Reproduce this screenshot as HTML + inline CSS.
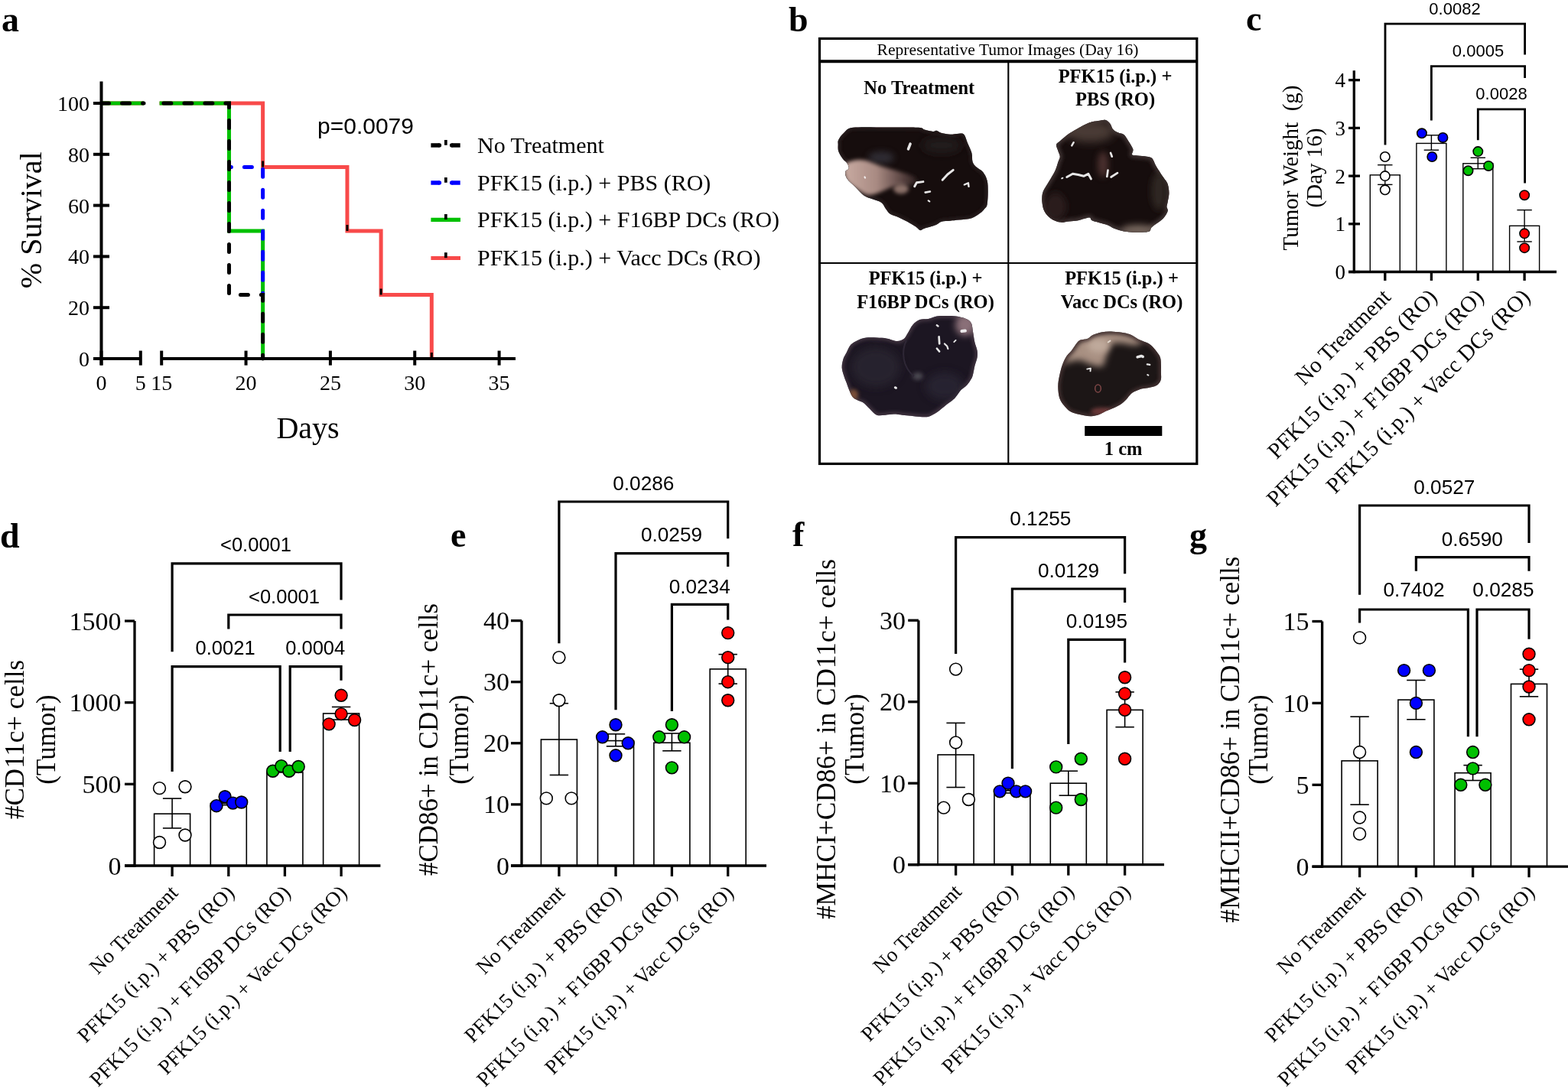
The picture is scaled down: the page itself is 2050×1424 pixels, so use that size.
<!DOCTYPE html><html><head><meta charset="utf-8"><title>Figure</title><style>html,body{margin:0;padding:0;background:#fff;}svg{display:block;}</style></head><body>
<svg width="2050" height="1424" viewBox="0 0 2050 1424">
<rect width="2050" height="1424" fill="#fff"/>
<text x="2" y="41" font-family="'Liberation Serif','Times New Roman',serif" font-size="46" text-anchor="start" font-weight="bold" >a</text>
<path d="M132.5 135.0 H188" stroke="#f84a4a" stroke-width="5" fill="none"/>
<path d="M208.6 135.0 H343.62 V218.5 H453.97 V302.0 H498.11 V385.5 H564.3199999999999 V469.0" stroke="#f84a4a" stroke-width="5" fill="none"/>
<path d="M132.5 135.0 H188 M208.6 135.0 H299.48 V302.0 H343.62 V469.0" stroke="#00c000" stroke-width="5" fill="none"/>
<path d="M299.48 218.5 H343.62 V385.5" stroke="#0000ff" stroke-width="5" fill="none" stroke-dasharray="10 17" stroke-linecap="round" stroke-dashoffset="7.1"/>
<path d="M132.5 135.0 H188" stroke="#000" stroke-width="5" fill="none" stroke-dasharray="10 17" stroke-linecap="round"/>
<path d="M208.6 135.0 H299.48 V385.5 H343.62 V469.0" stroke="#000" stroke-width="5" fill="none" stroke-dasharray="10 17" stroke-linecap="round" stroke-dashoffset="21.7"/>
<rect x="342.12" y="210.5" width="3" height="8" fill="#000"/>
<rect x="452.47" y="294" width="3" height="8" fill="#000"/>
<rect x="496.61" y="377.5" width="3" height="8" fill="#000"/>
<rect x="562.82" y="461" width="3" height="8" fill="#000"/>
<line x1="132.5" y1="106.5" x2="132.5" y2="477.5" stroke="#000" stroke-width="4" />
<line x1="122" y1="469" x2="183.8" y2="469" stroke="#000" stroke-width="4" />
<line x1="211.2" y1="469" x2="674" y2="469" stroke="#000" stroke-width="4" />
<line x1="122" y1="469" x2="143" y2="469" stroke="#000" stroke-width="4" />
<text x="117" y="479" font-family="'Liberation Serif','Times New Roman',serif" font-size="28" text-anchor="end" font-weight="normal" >0</text>
<line x1="122" y1="402.2" x2="143" y2="402.2" stroke="#000" stroke-width="4" />
<text x="117" y="412.2" font-family="'Liberation Serif','Times New Roman',serif" font-size="28" text-anchor="end" font-weight="normal" >20</text>
<line x1="122" y1="335.4" x2="143" y2="335.4" stroke="#000" stroke-width="4" />
<text x="117" y="345.4" font-family="'Liberation Serif','Times New Roman',serif" font-size="28" text-anchor="end" font-weight="normal" >40</text>
<line x1="122" y1="268.6" x2="143" y2="268.6" stroke="#000" stroke-width="4" />
<text x="117" y="278.6" font-family="'Liberation Serif','Times New Roman',serif" font-size="28" text-anchor="end" font-weight="normal" >60</text>
<line x1="122" y1="201.8" x2="143" y2="201.8" stroke="#000" stroke-width="4" />
<text x="117" y="211.8" font-family="'Liberation Serif','Times New Roman',serif" font-size="28" text-anchor="end" font-weight="normal" >80</text>
<line x1="122" y1="135" x2="143" y2="135" stroke="#000" stroke-width="4" />
<text x="117" y="145" font-family="'Liberation Serif','Times New Roman',serif" font-size="28" text-anchor="end" font-weight="normal" >100</text>
<line x1="132.5" y1="458.6" x2="132.5" y2="477.7" stroke="#000" stroke-width="4" />
<text x="132.5" y="510" font-family="'Liberation Serif','Times New Roman',serif" font-size="28" text-anchor="middle" font-weight="normal" >0</text>
<line x1="183.8" y1="458.6" x2="183.8" y2="477.7" stroke="#000" stroke-width="4" />
<text x="183.8" y="510" font-family="'Liberation Serif','Times New Roman',serif" font-size="28" text-anchor="middle" font-weight="normal" >5</text>
<line x1="211.2" y1="458.6" x2="211.2" y2="477.7" stroke="#000" stroke-width="4" />
<text x="211.2" y="510" font-family="'Liberation Serif','Times New Roman',serif" font-size="28" text-anchor="middle" font-weight="normal" >15</text>
<line x1="321.55" y1="458.6" x2="321.55" y2="477.7" stroke="#000" stroke-width="4" />
<text x="321.55" y="510" font-family="'Liberation Serif','Times New Roman',serif" font-size="28" text-anchor="middle" font-weight="normal" >20</text>
<line x1="431.9" y1="458.6" x2="431.9" y2="477.7" stroke="#000" stroke-width="4" />
<text x="431.9" y="510" font-family="'Liberation Serif','Times New Roman',serif" font-size="28" text-anchor="middle" font-weight="normal" >25</text>
<line x1="542.25" y1="458.6" x2="542.25" y2="477.7" stroke="#000" stroke-width="4" />
<text x="542.25" y="510" font-family="'Liberation Serif','Times New Roman',serif" font-size="28" text-anchor="middle" font-weight="normal" >30</text>
<line x1="652.6" y1="458.6" x2="652.6" y2="477.7" stroke="#000" stroke-width="4" />
<text x="652.6" y="510" font-family="'Liberation Serif','Times New Roman',serif" font-size="28" text-anchor="middle" font-weight="normal" >35</text>
<text x="402.5" y="573" font-family="'Liberation Serif','Times New Roman',serif" font-size="40" text-anchor="middle" font-weight="normal" >Days</text>
<text transform="translate(54,287.7) rotate(-90)" font-family="'Liberation Serif','Times New Roman',serif" font-size="40" text-anchor="middle" font-weight="normal" style="white-space:pre">% Survival</text>
<text x="415" y="175" font-family="'Liberation Sans',Arial,sans-serif" font-size="30" text-anchor="start" font-weight="normal" >p=0.0079</text>
<rect x="563.4" y="187.25" width="11" height="5.5" fill="#000"/><circle cx="574.4" cy="190" r="2.75" fill="#000"/>
<rect x="590.7" y="187.25" width="11" height="5.5" fill="#000"/><circle cx="590.7" cy="190" r="2.75" fill="#000"/>
<rect x="581" y="183" width="3.7" height="6.8" fill="#000"/>
<text x="624" y="200.3" font-family="'Liberation Serif','Times New Roman',serif" font-size="30" text-anchor="start" font-weight="normal" >No Treatment</text>
<rect x="563.4" y="236.25" width="11" height="5.5" fill="#0000ff"/><circle cx="574.4" cy="239" r="2.75" fill="#0000ff"/>
<rect x="590.7" y="236.25" width="11" height="5.5" fill="#0000ff"/><circle cx="590.7" cy="239" r="2.75" fill="#0000ff"/>
<rect x="581" y="232" width="3.7" height="6.8" fill="#000"/>
<text x="624" y="249" font-family="'Liberation Serif','Times New Roman',serif" font-size="30" text-anchor="start" font-weight="normal" >PFK15 (i.p.) + PBS (RO)</text>
<line x1="563.4" y1="287.3" x2="602" y2="287.3" stroke="#00c000" stroke-width="5.2" />
<rect x="581" y="280.0" width="3.7" height="7" fill="#000"/>
<text x="624" y="297.3" font-family="'Liberation Serif','Times New Roman',serif" font-size="30" text-anchor="start" font-weight="normal" >PFK15 (i.p.) + F16BP DCs (RO)</text>
<line x1="563.4" y1="337.5" x2="602" y2="337.5" stroke="#f84a4a" stroke-width="5.2" />
<rect x="581" y="330.2" width="3.7" height="7" fill="#000"/>
<text x="624" y="347.3" font-family="'Liberation Serif','Times New Roman',serif" font-size="30" text-anchor="start" font-weight="normal" >PFK15 (i.p.) + Vacc DCs (RO)</text>
<text x="1031" y="41" font-family="'Liberation Serif','Times New Roman',serif" font-size="46" text-anchor="start" font-weight="bold" >b</text>
<rect x="1071.5" y="50.45" width="493.3" height="556" fill="none" stroke="#000" stroke-width="3.2"/>
<line x1="1070" y1="80.3" x2="1566" y2="80.3" stroke="#000" stroke-width="4" />
<line x1="1318.3" y1="80" x2="1318.3" y2="607" stroke="#000" stroke-width="2.1" />
<line x1="1070" y1="344" x2="1566" y2="344" stroke="#000" stroke-width="2.1" />
<text x="1317.5" y="72.4" font-family="'Liberation Serif','Times New Roman',serif" font-size="21.6" text-anchor="middle" font-weight="normal" >Representative Tumor Images (Day 16)</text>
<text x="1201.8" y="123" font-family="'Liberation Serif','Times New Roman',serif" font-size="24.5" text-anchor="middle" font-weight="bold" >No Treatment</text>
<text x="1458" y="108" font-family="'Liberation Serif','Times New Roman',serif" font-size="24.5" text-anchor="middle" font-weight="bold" >PFK15 (i.p.) +</text>
<text x="1458" y="138" font-family="'Liberation Serif','Times New Roman',serif" font-size="24.5" text-anchor="middle" font-weight="bold" >PBS (RO)</text>
<text x="1210" y="372.4" font-family="'Liberation Serif','Times New Roman',serif" font-size="24.5" text-anchor="middle" font-weight="bold" >PFK15 (i.p.) +</text>
<text x="1210" y="402.5" font-family="'Liberation Serif','Times New Roman',serif" font-size="24.5" text-anchor="middle" font-weight="bold" >F16BP DCs (RO)</text>
<text x="1466.5" y="372.4" font-family="'Liberation Serif','Times New Roman',serif" font-size="24.5" text-anchor="middle" font-weight="bold" >PFK15 (i.p.) +</text>
<text x="1466.5" y="402.5" font-family="'Liberation Serif','Times New Roman',serif" font-size="24.5" text-anchor="middle" font-weight="bold" >Vacc DCs (RO)</text>
<rect x="1418.2" y="557" width="101.1" height="13" fill="#000"/>
<text x="1468.6" y="594.5" font-family="'Liberation Serif','Times New Roman',serif" font-size="24.5" text-anchor="middle" font-weight="bold" >1 cm</text>
<defs>
<filter id="bl1" x="-100%" y="-100%" width="300%" height="300%"><feGaussianBlur stdDeviation="2.5"/></filter>
<filter id="bl2" x="-100%" y="-100%" width="300%" height="300%"><feGaussianBlur stdDeviation="4"/></filter>
<filter id="bl3" x="-100%" y="-100%" width="300%" height="300%"><feGaussianBlur stdDeviation="6"/></filter>
<filter id="bl0" x="-5%" y="-5%" width="110%" height="110%"><feGaussianBlur stdDeviation="0.6"/></filter>
<linearGradient id="pk1" x1="0" y1="0" x2="1" y2="0"><stop offset="0" stop-color="#c9aba2"/><stop offset="0.45" stop-color="#a88a82"/><stop offset="0.8" stop-color="#5a4442"/><stop offset="1" stop-color="#2a1e1e"/></linearGradient>
<clipPath id="tc1"><path d="M1096.2 183.1 C1097.4 180.7 1099.8 176.8 1103.0 174.1 C1106.2 171.4 1105.8 168.1 1115.3 166.8 C1124.8 165.5 1145.8 166.5 1160.0 166.5 C1174.2 166.5 1192.6 166.3 1200.7 166.8 C1208.8 167.3 1205.4 168.8 1208.6 169.6 C1211.8 170.4 1217.2 171.7 1219.8 171.9 C1222.4 172.1 1222.4 170.3 1224.3 170.7 C1226.2 171.1 1228.1 173.2 1231.1 174.1 C1234.1 174.9 1238.6 175.7 1242.3 175.8 C1246.0 175.9 1250.5 174.7 1253.5 174.7 C1256.5 174.7 1258.4 173.8 1260.3 175.8 C1262.2 177.8 1263.1 182.5 1264.8 186.5 C1266.5 190.5 1269.3 195.8 1270.4 199.9 C1271.5 204.0 1270.6 208.2 1271.5 211.2 C1272.4 214.2 1273.8 215.7 1276.0 217.9 C1278.2 220.2 1282.6 221.7 1285.0 224.7 C1287.4 227.7 1289.5 231.6 1290.6 235.9 C1291.7 240.2 1291.7 245.2 1291.7 250.5 C1291.7 255.8 1291.3 263.6 1290.6 267.4 C1289.8 271.1 1288.7 271.1 1287.2 273.0 C1285.7 274.9 1284.4 276.6 1281.6 278.6 C1278.8 280.7 1275.1 283.8 1270.4 285.3 C1265.7 286.8 1258.2 287.0 1253.5 287.6 C1248.8 288.2 1246.0 288.3 1242.3 288.7 C1238.6 289.1 1234.3 288.9 1231.1 289.8 C1227.9 290.7 1227.0 292.8 1223.2 294.3 C1219.5 295.8 1212.0 297.7 1208.6 298.8 C1205.2 299.9 1204.9 301.5 1203.0 301.1 C1201.1 300.7 1200.2 298.5 1197.4 296.6 C1194.6 294.7 1189.8 291.9 1186.1 289.8 C1182.3 287.7 1178.6 285.9 1174.9 284.2 C1171.2 282.5 1166.5 281.6 1163.7 279.7 C1160.9 277.8 1159.9 275.4 1158.0 273.0 C1156.1 270.6 1155.2 267.2 1152.4 265.1 C1149.6 263.0 1144.9 262.1 1141.2 260.6 C1137.5 259.1 1133.8 258.7 1130.0 256.1 C1126.2 253.5 1122.5 248.6 1118.7 244.9 C1115.0 241.2 1109.8 237.1 1107.5 233.7 C1105.2 230.3 1104.8 226.9 1105.2 224.7 C1105.6 222.4 1109.3 222.1 1109.7 220.2 C1110.1 218.3 1108.8 215.5 1107.5 213.4 C1106.2 211.3 1103.8 210.4 1101.9 207.8 C1100.0 205.2 1097.2 200.9 1096.2 197.7 C1095.2 194.5 1095.7 191.1 1095.7 188.7 C1095.7 186.3 1095.0 185.5 1096.2 183.1 Z"/></clipPath>
<clipPath id="tc2"><path d="M1381.0 189.2 C1381.4 187.0 1383.0 186.8 1385.8 184.4 C1388.6 182.0 1393.7 177.6 1397.7 174.8 C1401.7 172.0 1405.3 170.1 1409.7 167.7 C1414.1 165.3 1419.6 162.1 1424.0 160.5 C1428.4 158.9 1432.3 158.7 1435.9 158.1 C1439.5 157.5 1442.9 156.3 1445.5 156.9 C1448.1 157.5 1449.8 159.7 1451.4 161.7 C1453.0 163.7 1453.2 166.9 1455.0 168.9 C1456.8 170.9 1459.8 172.4 1462.2 173.6 C1464.6 174.8 1467.1 174.2 1469.3 176.0 C1471.5 177.8 1473.3 181.2 1475.3 184.4 C1477.3 187.6 1480.5 192.1 1481.3 195.1 C1482.1 198.1 1479.1 200.9 1480.1 202.3 C1481.1 203.7 1484.0 203.1 1487.2 203.5 C1490.4 203.9 1496.0 204.1 1499.2 204.7 C1502.4 205.3 1504.3 205.1 1506.3 207.1 C1508.3 209.1 1509.3 213.4 1511.1 216.6 C1512.9 219.8 1515.3 223.4 1517.1 226.2 C1518.9 229.0 1520.3 230.9 1521.9 233.3 C1523.5 235.7 1525.5 237.3 1526.6 240.5 C1527.7 243.7 1528.4 248.4 1528.4 252.4 C1528.4 256.4 1527.1 261.3 1526.6 264.3 C1526.1 267.3 1525.4 268.3 1525.4 270.3 C1525.4 272.3 1527.4 273.7 1526.6 276.3 C1525.8 278.9 1523.3 283.0 1520.7 285.8 C1518.1 288.6 1513.7 291.0 1511.1 293.0 C1508.5 295.0 1506.6 296.2 1505.2 297.8 C1503.8 299.4 1504.8 301.5 1502.8 302.5 C1500.8 303.5 1496.8 303.5 1493.2 303.7 C1489.6 303.9 1485.3 303.9 1481.3 303.7 C1477.3 303.5 1473.3 303.3 1469.3 302.5 C1465.3 301.7 1461.0 300.4 1457.4 299.0 C1453.8 297.6 1450.9 295.4 1447.9 294.2 C1444.9 293.0 1442.9 292.8 1439.5 291.8 C1436.1 290.8 1430.2 289.4 1427.6 288.2 C1425.0 287.0 1427.0 284.6 1424.0 284.6 C1421.0 284.6 1414.1 287.4 1409.7 288.2 C1405.3 289.0 1401.7 289.0 1397.7 289.4 C1393.7 289.8 1389.8 291.2 1385.8 290.6 C1381.8 290.0 1377.3 288.2 1373.9 285.8 C1370.5 283.4 1367.4 279.9 1365.5 276.3 C1363.6 272.7 1362.9 268.3 1362.5 264.3 C1362.1 260.3 1362.2 256.0 1363.1 252.4 C1364.0 248.8 1366.1 246.1 1367.9 242.9 C1369.7 239.7 1371.9 236.7 1373.9 233.3 C1375.9 229.9 1378.2 226.2 1379.8 222.6 C1381.4 219.0 1382.4 214.8 1383.4 211.8 C1384.4 208.8 1385.8 207.1 1385.8 204.7 C1385.8 202.3 1384.2 200.1 1383.4 197.5 C1382.6 194.9 1380.6 191.4 1381.0 189.2 Z"/></clipPath>
<clipPath id="tc3"><path d="M1100.7 480.9 C1100.5 477.2 1101.4 473.1 1102.4 469.7 C1103.4 466.3 1105.2 463.9 1106.9 460.7 C1108.6 457.5 1110.1 453.2 1112.5 450.6 C1114.9 448.0 1118.1 446.4 1121.5 444.9 C1124.9 443.4 1128.6 442.2 1132.7 441.6 C1136.8 441.1 1141.7 441.4 1146.2 441.6 C1150.7 441.8 1155.2 441.9 1159.7 442.7 C1164.2 443.4 1169.4 446.1 1173.1 446.1 C1176.8 446.1 1179.8 444.4 1182.1 442.7 C1184.3 441.0 1184.7 439.0 1186.6 436.0 C1188.5 433.0 1190.8 427.7 1193.4 424.7 C1196.0 421.7 1199.0 419.3 1202.4 418.0 C1205.8 416.7 1209.9 417.6 1213.6 416.9 C1217.3 416.1 1221.0 414.2 1224.8 413.5 C1228.5 412.8 1232.0 412.9 1236.1 412.9 C1240.2 412.9 1245.1 412.8 1249.6 413.5 C1254.1 414.2 1259.6 415.4 1263.0 416.9 C1266.4 418.4 1268.3 419.7 1269.8 422.5 C1271.3 425.3 1271.2 429.6 1272.0 433.7 C1272.8 437.8 1273.4 443.1 1274.3 447.2 C1275.2 451.3 1277.0 455.0 1277.6 458.4 C1278.1 461.8 1278.1 464.0 1277.6 467.4 C1277.0 470.8 1275.2 474.9 1274.3 478.7 C1273.4 482.4 1272.8 487.1 1272.0 489.9 C1271.2 492.7 1271.1 493.2 1269.8 495.5 C1268.5 497.8 1266.5 501.0 1264.2 503.4 C1262.0 505.8 1258.7 507.5 1256.3 510.1 C1253.9 512.7 1251.5 516.9 1249.6 519.1 C1247.7 521.4 1247.3 521.7 1245.1 523.6 C1242.8 525.5 1239.5 527.7 1236.1 530.3 C1232.7 532.9 1228.5 536.9 1224.8 539.3 C1221.0 541.7 1217.3 544.0 1213.6 544.9 C1209.9 545.8 1206.2 545.1 1202.4 544.9 C1198.7 544.7 1194.8 544.2 1191.1 543.8 C1187.3 543.4 1183.6 543.1 1179.9 542.7 C1176.2 542.3 1172.5 541.6 1168.7 541.6 C1165.0 541.6 1161.2 542.5 1157.4 542.7 C1153.7 542.9 1149.6 544.0 1146.2 542.7 C1142.8 541.4 1140.0 537.4 1137.2 534.8 C1134.4 532.2 1131.9 528.9 1129.3 527.0 C1126.7 525.1 1123.9 524.9 1121.5 523.6 C1119.1 522.3 1116.6 521.4 1114.7 519.1 C1112.8 516.9 1111.5 513.1 1110.2 510.1 C1108.9 507.1 1108.0 504.1 1106.9 501.1 C1105.8 498.1 1104.5 495.5 1103.5 492.1 C1102.5 488.7 1100.9 484.6 1100.7 480.9 Z"/></clipPath>
<clipPath id="tc4"><path d="M1383.3 505.3 C1383.3 500.4 1384.2 495.8 1385.2 491.1 C1386.2 486.4 1387.4 481.2 1389.0 476.9 C1390.6 472.6 1392.5 468.7 1394.6 465.5 C1396.6 462.3 1399.1 460.8 1401.3 457.9 C1403.5 455.0 1406.0 450.6 1407.9 448.4 C1409.8 446.2 1410.3 445.6 1412.7 444.6 C1415.1 443.7 1419.4 443.8 1422.1 442.7 C1424.8 441.6 1425.6 439.4 1428.8 438.0 C1432.0 436.6 1436.7 434.9 1441.1 434.2 C1445.5 433.5 1450.6 433.5 1455.3 433.7 C1460.0 433.9 1465.5 434.5 1469.5 435.2 C1473.5 435.9 1475.8 436.6 1479.0 438.0 C1482.2 439.4 1485.3 442.1 1488.5 443.7 C1491.7 445.3 1495.3 446.2 1498.0 447.5 C1500.7 448.8 1502.2 449.2 1504.6 451.3 C1507.0 453.4 1510.2 457.1 1512.2 459.8 C1514.2 462.5 1516.0 464.5 1516.9 467.4 C1517.9 470.2 1517.7 473.7 1517.9 476.9 C1518.1 480.1 1517.9 483.2 1517.9 486.4 C1517.9 489.5 1518.4 493.3 1517.9 495.8 C1517.4 498.3 1516.4 499.9 1515.0 501.5 C1513.6 503.1 1511.7 504.4 1509.3 505.3 C1506.9 506.2 1503.5 506.7 1500.8 507.2 C1498.1 507.7 1495.7 507.6 1493.2 508.2 C1490.7 508.8 1488.0 509.9 1485.6 511.0 C1483.2 512.1 1481.2 512.9 1479.0 514.8 C1476.8 516.7 1474.8 520.0 1472.4 522.4 C1470.0 524.8 1467.7 527.1 1464.8 529.0 C1461.9 530.9 1458.5 532.3 1455.3 533.7 C1452.1 535.1 1448.9 536.1 1445.8 537.5 C1442.7 538.9 1439.6 541.2 1436.4 542.3 C1433.2 543.4 1430.1 544.1 1426.9 544.2 C1423.7 544.4 1420.6 543.7 1417.4 543.2 C1414.2 542.7 1411.1 542.2 1407.9 541.3 C1404.7 540.3 1401.2 539.4 1398.4 537.5 C1395.6 535.6 1393.1 532.8 1390.9 530.0 C1388.7 527.2 1386.5 524.6 1385.2 520.5 C1383.9 516.4 1383.3 510.2 1383.3 505.3 Z"/></clipPath>
</defs>
<path d="M1096.2 183.1 C1097.4 180.7 1099.8 176.8 1103.0 174.1 C1106.2 171.4 1105.8 168.1 1115.3 166.8 C1124.8 165.5 1145.8 166.5 1160.0 166.5 C1174.2 166.5 1192.6 166.3 1200.7 166.8 C1208.8 167.3 1205.4 168.8 1208.6 169.6 C1211.8 170.4 1217.2 171.7 1219.8 171.9 C1222.4 172.1 1222.4 170.3 1224.3 170.7 C1226.2 171.1 1228.1 173.2 1231.1 174.1 C1234.1 174.9 1238.6 175.7 1242.3 175.8 C1246.0 175.9 1250.5 174.7 1253.5 174.7 C1256.5 174.7 1258.4 173.8 1260.3 175.8 C1262.2 177.8 1263.1 182.5 1264.8 186.5 C1266.5 190.5 1269.3 195.8 1270.4 199.9 C1271.5 204.0 1270.6 208.2 1271.5 211.2 C1272.4 214.2 1273.8 215.7 1276.0 217.9 C1278.2 220.2 1282.6 221.7 1285.0 224.7 C1287.4 227.7 1289.5 231.6 1290.6 235.9 C1291.7 240.2 1291.7 245.2 1291.7 250.5 C1291.7 255.8 1291.3 263.6 1290.6 267.4 C1289.8 271.1 1288.7 271.1 1287.2 273.0 C1285.7 274.9 1284.4 276.6 1281.6 278.6 C1278.8 280.7 1275.1 283.8 1270.4 285.3 C1265.7 286.8 1258.2 287.0 1253.5 287.6 C1248.8 288.2 1246.0 288.3 1242.3 288.7 C1238.6 289.1 1234.3 288.9 1231.1 289.8 C1227.9 290.7 1227.0 292.8 1223.2 294.3 C1219.5 295.8 1212.0 297.7 1208.6 298.8 C1205.2 299.9 1204.9 301.5 1203.0 301.1 C1201.1 300.7 1200.2 298.5 1197.4 296.6 C1194.6 294.7 1189.8 291.9 1186.1 289.8 C1182.3 287.7 1178.6 285.9 1174.9 284.2 C1171.2 282.5 1166.5 281.6 1163.7 279.7 C1160.9 277.8 1159.9 275.4 1158.0 273.0 C1156.1 270.6 1155.2 267.2 1152.4 265.1 C1149.6 263.0 1144.9 262.1 1141.2 260.6 C1137.5 259.1 1133.8 258.7 1130.0 256.1 C1126.2 253.5 1122.5 248.6 1118.7 244.9 C1115.0 241.2 1109.8 237.1 1107.5 233.7 C1105.2 230.3 1104.8 226.9 1105.2 224.7 C1105.6 222.4 1109.3 222.1 1109.7 220.2 C1110.1 218.3 1108.8 215.5 1107.5 213.4 C1106.2 211.3 1103.8 210.4 1101.9 207.8 C1100.0 205.2 1097.2 200.9 1096.2 197.7 C1095.2 194.5 1095.7 191.1 1095.7 188.7 C1095.7 186.3 1095.0 185.5 1096.2 183.1 Z" fill="#120b0d" filter="url(#bl0)"/>
<g clip-path="url(#tc1)">
<path d="M1096.2 183.1 C1097.4 180.7 1099.8 176.8 1103.0 174.1 C1106.2 171.4 1105.8 168.1 1115.3 166.8 C1124.8 165.5 1145.8 166.5 1160.0 166.5 C1174.2 166.5 1192.6 166.3 1200.7 166.8 C1208.8 167.3 1205.4 168.8 1208.6 169.6 C1211.8 170.4 1217.2 171.7 1219.8 171.9 C1222.4 172.1 1222.4 170.3 1224.3 170.7 C1226.2 171.1 1228.1 173.2 1231.1 174.1 C1234.1 174.9 1238.6 175.7 1242.3 175.8 C1246.0 175.9 1250.5 174.7 1253.5 174.7 C1256.5 174.7 1258.4 173.8 1260.3 175.8 C1262.2 177.8 1263.1 182.5 1264.8 186.5 C1266.5 190.5 1269.3 195.8 1270.4 199.9 C1271.5 204.0 1270.6 208.2 1271.5 211.2 C1272.4 214.2 1273.8 215.7 1276.0 217.9 C1278.2 220.2 1282.6 221.7 1285.0 224.7 C1287.4 227.7 1289.5 231.6 1290.6 235.9 C1291.7 240.2 1291.7 245.2 1291.7 250.5 C1291.7 255.8 1291.3 263.6 1290.6 267.4 C1289.8 271.1 1288.7 271.1 1287.2 273.0 C1285.7 274.9 1284.4 276.6 1281.6 278.6 C1278.8 280.7 1275.1 283.8 1270.4 285.3 C1265.7 286.8 1258.2 287.0 1253.5 287.6 C1248.8 288.2 1246.0 288.3 1242.3 288.7 C1238.6 289.1 1234.3 288.9 1231.1 289.8 C1227.9 290.7 1227.0 292.8 1223.2 294.3 C1219.5 295.8 1212.0 297.7 1208.6 298.8 C1205.2 299.9 1204.9 301.5 1203.0 301.1 C1201.1 300.7 1200.2 298.5 1197.4 296.6 C1194.6 294.7 1189.8 291.9 1186.1 289.8 C1182.3 287.7 1178.6 285.9 1174.9 284.2 C1171.2 282.5 1166.5 281.6 1163.7 279.7 C1160.9 277.8 1159.9 275.4 1158.0 273.0 C1156.1 270.6 1155.2 267.2 1152.4 265.1 C1149.6 263.0 1144.9 262.1 1141.2 260.6 C1137.5 259.1 1133.8 258.7 1130.0 256.1 C1126.2 253.5 1122.5 248.6 1118.7 244.9 C1115.0 241.2 1109.8 237.1 1107.5 233.7 C1105.2 230.3 1104.8 226.9 1105.2 224.7 C1105.6 222.4 1109.3 222.1 1109.7 220.2 C1110.1 218.3 1108.8 215.5 1107.5 213.4 C1106.2 211.3 1103.8 210.4 1101.9 207.8 C1100.0 205.2 1097.2 200.9 1096.2 197.7 C1095.2 194.5 1095.7 191.1 1095.7 188.7 C1095.7 186.3 1095.0 185.5 1096.2 183.1 Z" fill="none" stroke="#2a2022" stroke-width="5" filter="url(#bl1)"/>
<ellipse cx="1231" cy="190" rx="26" ry="10" fill="#241d1f" filter="url(#bl3)"/>
<ellipse cx="1152" cy="206" rx="17" ry="8" fill="#3a3a44" opacity="0.7" filter="url(#bl2)"/>
<path d="M1104.1 217.9 C1105.2 213.9 1108.8 212.0 1113.1 210.6 C1117.4 209.2 1123.4 208.4 1129.9 209.5 C1136.5 210.6 1144.9 214.9 1152.4 217.4 C1159.9 219.8 1167.4 221.6 1174.9 224.1 C1182.4 226.6 1194.4 229.6 1197.4 232.5 C1200.4 235.4 1197.5 239.6 1192.9 241.5 C1188.2 243.4 1176.0 242.3 1169.3 243.8 C1162.5 245.3 1158.0 248.6 1152.4 250.5 C1146.8 252.4 1141.2 255.7 1135.6 255.0 C1129.9 254.3 1123.6 249.4 1118.7 246.0 C1113.8 242.6 1108.8 239.5 1106.3 234.8 C1103.9 230.1 1103.0 221.9 1104.1 217.9 Z" fill="url(#pk1)" filter="url(#bl1)"/>
<ellipse cx="1178" cy="247" rx="10" ry="6.5" fill="#8a7068" filter="url(#bl1)"/>
</g>
<path d="M1190.1 188.1 L1187.5 194.9" stroke="#f2f2f2" stroke-width="3.5100000000000002" stroke-linecap="round" stroke-linejoin="round" fill="none" opacity="0.95"/>
<path d="M1195.7 243.8 L1198.5 238.7 L1206.9 237.6" stroke="#f2f2f2" stroke-width="2.9700000000000006" stroke-linecap="round" stroke-linejoin="round" fill="none" opacity="0.95"/>
<path d="M1232.2 235.3 L1238.9 228.0 L1246.2 222.4" stroke="#f2f2f2" stroke-width="2.9700000000000006" stroke-linecap="round" stroke-linejoin="round" fill="none" opacity="0.95"/>
<path d="M1209.7 251.6 L1215.9 250.5" stroke="#f2f2f2" stroke-width="2.7" stroke-linecap="round" stroke-linejoin="round" fill="none" opacity="0.95"/>
<path d="M1260.8 241.5 L1265.9 239.3 L1266.5 243.8" stroke="#f2f2f2" stroke-width="2.43" stroke-linecap="round" stroke-linejoin="round" fill="none" opacity="0.95"/>
<path d="M1213.7 262.3 L1215.3 263.4" stroke="#f2f2f2" stroke-width="2.16" stroke-linecap="round" stroke-linejoin="round" fill="none" opacity="0.95"/>
<path d="M1130.5 231.4 L1131.1 232.5" stroke="#ffffff" stroke-width="2.16" stroke-linecap="round" stroke-linejoin="round" fill="none" opacity="0.8"/>
<path d="M1381.0 189.2 C1381.4 187.0 1383.0 186.8 1385.8 184.4 C1388.6 182.0 1393.7 177.6 1397.7 174.8 C1401.7 172.0 1405.3 170.1 1409.7 167.7 C1414.1 165.3 1419.6 162.1 1424.0 160.5 C1428.4 158.9 1432.3 158.7 1435.9 158.1 C1439.5 157.5 1442.9 156.3 1445.5 156.9 C1448.1 157.5 1449.8 159.7 1451.4 161.7 C1453.0 163.7 1453.2 166.9 1455.0 168.9 C1456.8 170.9 1459.8 172.4 1462.2 173.6 C1464.6 174.8 1467.1 174.2 1469.3 176.0 C1471.5 177.8 1473.3 181.2 1475.3 184.4 C1477.3 187.6 1480.5 192.1 1481.3 195.1 C1482.1 198.1 1479.1 200.9 1480.1 202.3 C1481.1 203.7 1484.0 203.1 1487.2 203.5 C1490.4 203.9 1496.0 204.1 1499.2 204.7 C1502.4 205.3 1504.3 205.1 1506.3 207.1 C1508.3 209.1 1509.3 213.4 1511.1 216.6 C1512.9 219.8 1515.3 223.4 1517.1 226.2 C1518.9 229.0 1520.3 230.9 1521.9 233.3 C1523.5 235.7 1525.5 237.3 1526.6 240.5 C1527.7 243.7 1528.4 248.4 1528.4 252.4 C1528.4 256.4 1527.1 261.3 1526.6 264.3 C1526.1 267.3 1525.4 268.3 1525.4 270.3 C1525.4 272.3 1527.4 273.7 1526.6 276.3 C1525.8 278.9 1523.3 283.0 1520.7 285.8 C1518.1 288.6 1513.7 291.0 1511.1 293.0 C1508.5 295.0 1506.6 296.2 1505.2 297.8 C1503.8 299.4 1504.8 301.5 1502.8 302.5 C1500.8 303.5 1496.8 303.5 1493.2 303.7 C1489.6 303.9 1485.3 303.9 1481.3 303.7 C1477.3 303.5 1473.3 303.3 1469.3 302.5 C1465.3 301.7 1461.0 300.4 1457.4 299.0 C1453.8 297.6 1450.9 295.4 1447.9 294.2 C1444.9 293.0 1442.9 292.8 1439.5 291.8 C1436.1 290.8 1430.2 289.4 1427.6 288.2 C1425.0 287.0 1427.0 284.6 1424.0 284.6 C1421.0 284.6 1414.1 287.4 1409.7 288.2 C1405.3 289.0 1401.7 289.0 1397.7 289.4 C1393.7 289.8 1389.8 291.2 1385.8 290.6 C1381.8 290.0 1377.3 288.2 1373.9 285.8 C1370.5 283.4 1367.4 279.9 1365.5 276.3 C1363.6 272.7 1362.9 268.3 1362.5 264.3 C1362.1 260.3 1362.2 256.0 1363.1 252.4 C1364.0 248.8 1366.1 246.1 1367.9 242.9 C1369.7 239.7 1371.9 236.7 1373.9 233.3 C1375.9 229.9 1378.2 226.2 1379.8 222.6 C1381.4 219.0 1382.4 214.8 1383.4 211.8 C1384.4 208.8 1385.8 207.1 1385.8 204.7 C1385.8 202.3 1384.2 200.1 1383.4 197.5 C1382.6 194.9 1380.6 191.4 1381.0 189.2 Z" fill="#181010" filter="url(#bl0)"/>
<g clip-path="url(#tc2)">
<path d="M1381.0 189.2 C1381.4 187.0 1383.0 186.8 1385.8 184.4 C1388.6 182.0 1393.7 177.6 1397.7 174.8 C1401.7 172.0 1405.3 170.1 1409.7 167.7 C1414.1 165.3 1419.6 162.1 1424.0 160.5 C1428.4 158.9 1432.3 158.7 1435.9 158.1 C1439.5 157.5 1442.9 156.3 1445.5 156.9 C1448.1 157.5 1449.8 159.7 1451.4 161.7 C1453.0 163.7 1453.2 166.9 1455.0 168.9 C1456.8 170.9 1459.8 172.4 1462.2 173.6 C1464.6 174.8 1467.1 174.2 1469.3 176.0 C1471.5 177.8 1473.3 181.2 1475.3 184.4 C1477.3 187.6 1480.5 192.1 1481.3 195.1 C1482.1 198.1 1479.1 200.9 1480.1 202.3 C1481.1 203.7 1484.0 203.1 1487.2 203.5 C1490.4 203.9 1496.0 204.1 1499.2 204.7 C1502.4 205.3 1504.3 205.1 1506.3 207.1 C1508.3 209.1 1509.3 213.4 1511.1 216.6 C1512.9 219.8 1515.3 223.4 1517.1 226.2 C1518.9 229.0 1520.3 230.9 1521.9 233.3 C1523.5 235.7 1525.5 237.3 1526.6 240.5 C1527.7 243.7 1528.4 248.4 1528.4 252.4 C1528.4 256.4 1527.1 261.3 1526.6 264.3 C1526.1 267.3 1525.4 268.3 1525.4 270.3 C1525.4 272.3 1527.4 273.7 1526.6 276.3 C1525.8 278.9 1523.3 283.0 1520.7 285.8 C1518.1 288.6 1513.7 291.0 1511.1 293.0 C1508.5 295.0 1506.6 296.2 1505.2 297.8 C1503.8 299.4 1504.8 301.5 1502.8 302.5 C1500.8 303.5 1496.8 303.5 1493.2 303.7 C1489.6 303.9 1485.3 303.9 1481.3 303.7 C1477.3 303.5 1473.3 303.3 1469.3 302.5 C1465.3 301.7 1461.0 300.4 1457.4 299.0 C1453.8 297.6 1450.9 295.4 1447.9 294.2 C1444.9 293.0 1442.9 292.8 1439.5 291.8 C1436.1 290.8 1430.2 289.4 1427.6 288.2 C1425.0 287.0 1427.0 284.6 1424.0 284.6 C1421.0 284.6 1414.1 287.4 1409.7 288.2 C1405.3 289.0 1401.7 289.0 1397.7 289.4 C1393.7 289.8 1389.8 291.2 1385.8 290.6 C1381.8 290.0 1377.3 288.2 1373.9 285.8 C1370.5 283.4 1367.4 279.9 1365.5 276.3 C1363.6 272.7 1362.9 268.3 1362.5 264.3 C1362.1 260.3 1362.2 256.0 1363.1 252.4 C1364.0 248.8 1366.1 246.1 1367.9 242.9 C1369.7 239.7 1371.9 236.7 1373.9 233.3 C1375.9 229.9 1378.2 226.2 1379.8 222.6 C1381.4 219.0 1382.4 214.8 1383.4 211.8 C1384.4 208.8 1385.8 207.1 1385.8 204.7 C1385.8 202.3 1384.2 200.1 1383.4 197.5 C1382.6 194.9 1380.6 191.4 1381.0 189.2 Z" fill="none" stroke="#3e3230" stroke-width="7" filter="url(#bl1)"/>
<ellipse cx="1425" cy="172" rx="32" ry="14" fill="#4a3a36" filter="url(#bl3)"/>
<ellipse cx="1442" cy="215" rx="7" ry="17" fill="#5a3a38" opacity="0.8" filter="url(#bl2)"/>
<ellipse cx="1488" cy="300" rx="22" ry="6" fill="#7a6a60" filter="url(#bl2)"/>
<ellipse cx="1380" cy="270" rx="14" ry="18" fill="#2a1f1e" filter="url(#bl2)"/>
<ellipse cx="1515" cy="250" rx="10" ry="25" fill="#2e2624" filter="url(#bl2)"/>
</g>
<path d="M1394.8 231.5 L1402.5 227.3 L1409.7 228.5 L1416.8 230.3 L1422.8 227.3 L1426.4 233.9" stroke="#f2f2f2" stroke-width="2.9700000000000006" stroke-linecap="round" stroke-linejoin="round" fill="none" opacity="0.95"/>
<path d="M1447.3 230.9 L1448.5 222.6" stroke="#f2f2f2" stroke-width="2.7" stroke-linecap="round" stroke-linejoin="round" fill="none" opacity="0.95"/>
<path d="M1452.6 231.5 L1461.0 226.2" stroke="#f2f2f2" stroke-width="2.7" stroke-linecap="round" stroke-linejoin="round" fill="none" opacity="0.95"/>
<path d="M1452.0 199.9 L1453.8 204.7" stroke="#f2f2f2" stroke-width="2.7" stroke-linecap="round" stroke-linejoin="round" fill="none" opacity="0.95"/>
<path d="M1401.3 190.4 L1403.7 186.2" stroke="#f2f2f2" stroke-width="2.43" stroke-linecap="round" stroke-linejoin="round" fill="none" opacity="0.95"/>
<path d="M1388.2 233.3 L1389.4 232.7" stroke="#f2f2f2" stroke-width="2.0250000000000004" stroke-linecap="round" stroke-linejoin="round" fill="none" opacity="0.95"/>
<path d="M1100.7 480.9 C1100.5 477.2 1101.4 473.1 1102.4 469.7 C1103.4 466.3 1105.2 463.9 1106.9 460.7 C1108.6 457.5 1110.1 453.2 1112.5 450.6 C1114.9 448.0 1118.1 446.4 1121.5 444.9 C1124.9 443.4 1128.6 442.2 1132.7 441.6 C1136.8 441.1 1141.7 441.4 1146.2 441.6 C1150.7 441.8 1155.2 441.9 1159.7 442.7 C1164.2 443.4 1169.4 446.1 1173.1 446.1 C1176.8 446.1 1179.8 444.4 1182.1 442.7 C1184.3 441.0 1184.7 439.0 1186.6 436.0 C1188.5 433.0 1190.8 427.7 1193.4 424.7 C1196.0 421.7 1199.0 419.3 1202.4 418.0 C1205.8 416.7 1209.9 417.6 1213.6 416.9 C1217.3 416.1 1221.0 414.2 1224.8 413.5 C1228.5 412.8 1232.0 412.9 1236.1 412.9 C1240.2 412.9 1245.1 412.8 1249.6 413.5 C1254.1 414.2 1259.6 415.4 1263.0 416.9 C1266.4 418.4 1268.3 419.7 1269.8 422.5 C1271.3 425.3 1271.2 429.6 1272.0 433.7 C1272.8 437.8 1273.4 443.1 1274.3 447.2 C1275.2 451.3 1277.0 455.0 1277.6 458.4 C1278.1 461.8 1278.1 464.0 1277.6 467.4 C1277.0 470.8 1275.2 474.9 1274.3 478.7 C1273.4 482.4 1272.8 487.1 1272.0 489.9 C1271.2 492.7 1271.1 493.2 1269.8 495.5 C1268.5 497.8 1266.5 501.0 1264.2 503.4 C1262.0 505.8 1258.7 507.5 1256.3 510.1 C1253.9 512.7 1251.5 516.9 1249.6 519.1 C1247.7 521.4 1247.3 521.7 1245.1 523.6 C1242.8 525.5 1239.5 527.7 1236.1 530.3 C1232.7 532.9 1228.5 536.9 1224.8 539.3 C1221.0 541.7 1217.3 544.0 1213.6 544.9 C1209.9 545.8 1206.2 545.1 1202.4 544.9 C1198.7 544.7 1194.8 544.2 1191.1 543.8 C1187.3 543.4 1183.6 543.1 1179.9 542.7 C1176.2 542.3 1172.5 541.6 1168.7 541.6 C1165.0 541.6 1161.2 542.5 1157.4 542.7 C1153.7 542.9 1149.6 544.0 1146.2 542.7 C1142.8 541.4 1140.0 537.4 1137.2 534.8 C1134.4 532.2 1131.9 528.9 1129.3 527.0 C1126.7 525.1 1123.9 524.9 1121.5 523.6 C1119.1 522.3 1116.6 521.4 1114.7 519.1 C1112.8 516.9 1111.5 513.1 1110.2 510.1 C1108.9 507.1 1108.0 504.1 1106.9 501.1 C1105.8 498.1 1104.5 495.5 1103.5 492.1 C1102.5 488.7 1100.9 484.6 1100.7 480.9 Z" fill="#1b1722" filter="url(#bl0)"/>
<g clip-path="url(#tc3)">
<path d="M1100.7 480.9 C1100.5 477.2 1101.4 473.1 1102.4 469.7 C1103.4 466.3 1105.2 463.9 1106.9 460.7 C1108.6 457.5 1110.1 453.2 1112.5 450.6 C1114.9 448.0 1118.1 446.4 1121.5 444.9 C1124.9 443.4 1128.6 442.2 1132.7 441.6 C1136.8 441.1 1141.7 441.4 1146.2 441.6 C1150.7 441.8 1155.2 441.9 1159.7 442.7 C1164.2 443.4 1169.4 446.1 1173.1 446.1 C1176.8 446.1 1179.8 444.4 1182.1 442.7 C1184.3 441.0 1184.7 439.0 1186.6 436.0 C1188.5 433.0 1190.8 427.7 1193.4 424.7 C1196.0 421.7 1199.0 419.3 1202.4 418.0 C1205.8 416.7 1209.9 417.6 1213.6 416.9 C1217.3 416.1 1221.0 414.2 1224.8 413.5 C1228.5 412.8 1232.0 412.9 1236.1 412.9 C1240.2 412.9 1245.1 412.8 1249.6 413.5 C1254.1 414.2 1259.6 415.4 1263.0 416.9 C1266.4 418.4 1268.3 419.7 1269.8 422.5 C1271.3 425.3 1271.2 429.6 1272.0 433.7 C1272.8 437.8 1273.4 443.1 1274.3 447.2 C1275.2 451.3 1277.0 455.0 1277.6 458.4 C1278.1 461.8 1278.1 464.0 1277.6 467.4 C1277.0 470.8 1275.2 474.9 1274.3 478.7 C1273.4 482.4 1272.8 487.1 1272.0 489.9 C1271.2 492.7 1271.1 493.2 1269.8 495.5 C1268.5 497.8 1266.5 501.0 1264.2 503.4 C1262.0 505.8 1258.7 507.5 1256.3 510.1 C1253.9 512.7 1251.5 516.9 1249.6 519.1 C1247.7 521.4 1247.3 521.7 1245.1 523.6 C1242.8 525.5 1239.5 527.7 1236.1 530.3 C1232.7 532.9 1228.5 536.9 1224.8 539.3 C1221.0 541.7 1217.3 544.0 1213.6 544.9 C1209.9 545.8 1206.2 545.1 1202.4 544.9 C1198.7 544.7 1194.8 544.2 1191.1 543.8 C1187.3 543.4 1183.6 543.1 1179.9 542.7 C1176.2 542.3 1172.5 541.6 1168.7 541.6 C1165.0 541.6 1161.2 542.5 1157.4 542.7 C1153.7 542.9 1149.6 544.0 1146.2 542.7 C1142.8 541.4 1140.0 537.4 1137.2 534.8 C1134.4 532.2 1131.9 528.9 1129.3 527.0 C1126.7 525.1 1123.9 524.9 1121.5 523.6 C1119.1 522.3 1116.6 521.4 1114.7 519.1 C1112.8 516.9 1111.5 513.1 1110.2 510.1 C1108.9 507.1 1108.0 504.1 1106.9 501.1 C1105.8 498.1 1104.5 495.5 1103.5 492.1 C1102.5 488.7 1100.9 484.6 1100.7 480.9 Z" fill="none" stroke="#4a3a46" stroke-width="5" filter="url(#bl1)"/>
<ellipse cx="1262" cy="425" rx="13" ry="14" fill="#8a7078" filter="url(#bl2)"/>
<ellipse cx="1116" cy="516" rx="6" ry="7" fill="#7a5038" filter="url(#bl1)"/>
<ellipse cx="1200" cy="492" rx="7" ry="5" fill="#4a4650" filter="url(#bl1)"/>
<ellipse cx="1145" cy="480" rx="32" ry="26" fill="#2a2632" opacity="0.8" filter="url(#bl3)"/>
<ellipse cx="1235" cy="505" rx="25" ry="18" fill="#2a2834" opacity="0.8" filter="url(#bl3)"/>
<path d="M1185 445 C1178 460 1180 480 1195 492" stroke="#2e2836" stroke-width="2" fill="none" filter="url(#bl0)"/>
</g>
<path d="M1227.6 440.4 L1228.2 449.4" stroke="#f2f2f2" stroke-width="2.7" stroke-linecap="round" stroke-linejoin="round" fill="none" opacity="0.95"/>
<path d="M1224.8 455.6 L1228.2 459.6" stroke="#f2f2f2" stroke-width="2.43" stroke-linecap="round" stroke-linejoin="round" fill="none" opacity="0.95"/>
<path d="M1234.9 449.4 L1238.3 452.8 L1239.4 456.2" stroke="#f2f2f2" stroke-width="2.16" stroke-linecap="round" stroke-linejoin="round" fill="none" opacity="0.95"/>
<path d="M1257.4 433.1 L1261.9 432.6" stroke="#f2f2f2" stroke-width="4.050000000000001" stroke-linecap="round" stroke-linejoin="round" fill="none" opacity="0.95"/>
<path d="M1224.8 425.3 L1226.5 426.4" stroke="#f2f2f2" stroke-width="2.43" stroke-linecap="round" stroke-linejoin="round" fill="none" opacity="0.95"/>
<path d="M1170.3 506.7 L1171.5 507.3" stroke="#f2f2f2" stroke-width="2.9700000000000006" stroke-linecap="round" stroke-linejoin="round" fill="none" opacity="0.95"/>
<path d="M1247.3 447.2 L1249.6 444.9" stroke="#f2f2f2" stroke-width="1.89" stroke-linecap="round" stroke-linejoin="round" fill="none" opacity="0.95"/>
<path d="M1383.3 505.3 C1383.3 500.4 1384.2 495.8 1385.2 491.1 C1386.2 486.4 1387.4 481.2 1389.0 476.9 C1390.6 472.6 1392.5 468.7 1394.6 465.5 C1396.6 462.3 1399.1 460.8 1401.3 457.9 C1403.5 455.0 1406.0 450.6 1407.9 448.4 C1409.8 446.2 1410.3 445.6 1412.7 444.6 C1415.1 443.7 1419.4 443.8 1422.1 442.7 C1424.8 441.6 1425.6 439.4 1428.8 438.0 C1432.0 436.6 1436.7 434.9 1441.1 434.2 C1445.5 433.5 1450.6 433.5 1455.3 433.7 C1460.0 433.9 1465.5 434.5 1469.5 435.2 C1473.5 435.9 1475.8 436.6 1479.0 438.0 C1482.2 439.4 1485.3 442.1 1488.5 443.7 C1491.7 445.3 1495.3 446.2 1498.0 447.5 C1500.7 448.8 1502.2 449.2 1504.6 451.3 C1507.0 453.4 1510.2 457.1 1512.2 459.8 C1514.2 462.5 1516.0 464.5 1516.9 467.4 C1517.9 470.2 1517.7 473.7 1517.9 476.9 C1518.1 480.1 1517.9 483.2 1517.9 486.4 C1517.9 489.5 1518.4 493.3 1517.9 495.8 C1517.4 498.3 1516.4 499.9 1515.0 501.5 C1513.6 503.1 1511.7 504.4 1509.3 505.3 C1506.9 506.2 1503.5 506.7 1500.8 507.2 C1498.1 507.7 1495.7 507.6 1493.2 508.2 C1490.7 508.8 1488.0 509.9 1485.6 511.0 C1483.2 512.1 1481.2 512.9 1479.0 514.8 C1476.8 516.7 1474.8 520.0 1472.4 522.4 C1470.0 524.8 1467.7 527.1 1464.8 529.0 C1461.9 530.9 1458.5 532.3 1455.3 533.7 C1452.1 535.1 1448.9 536.1 1445.8 537.5 C1442.7 538.9 1439.6 541.2 1436.4 542.3 C1433.2 543.4 1430.1 544.1 1426.9 544.2 C1423.7 544.4 1420.6 543.7 1417.4 543.2 C1414.2 542.7 1411.1 542.2 1407.9 541.3 C1404.7 540.3 1401.2 539.4 1398.4 537.5 C1395.6 535.6 1393.1 532.8 1390.9 530.0 C1388.7 527.2 1386.5 524.6 1385.2 520.5 C1383.9 516.4 1383.3 510.2 1383.3 505.3 Z" fill="#1b1515" filter="url(#bl0)"/>
<g clip-path="url(#tc4)">
<path d="M1389.0 476.9 C1388.4 475.6 1392.5 468.7 1394.6 465.5 C1396.6 462.3 1399.1 460.8 1401.3 457.9 C1403.5 455.0 1406.0 450.6 1407.9 448.4 C1409.8 446.2 1409.2 446.3 1412.7 444.6 C1416.2 442.9 1421.7 439.8 1428.8 438.0 C1435.9 436.2 1446.9 433.7 1455.3 433.7 C1463.7 433.7 1472.7 435.9 1479.0 438.0 C1485.3 440.1 1492.4 444.3 1493.2 446.5 C1494.0 448.7 1488.4 451.0 1483.7 451.3 C1479.0 451.6 1470.0 448.4 1464.8 448.4 C1459.6 448.4 1455.7 448.1 1452.5 451.3 C1449.3 454.5 1447.7 462.8 1445.8 467.4 C1443.9 472.0 1444.2 477.2 1441.1 478.8 C1437.9 480.4 1431.6 478.2 1426.9 476.9 C1422.2 475.6 1417.5 471.8 1412.7 471.2 C1408.0 470.6 1402.4 472.2 1398.4 473.1 C1394.5 474.1 1389.6 478.2 1389.0 476.9 Z" fill="#a89082" filter="url(#bl2)"/>
<ellipse cx="1436" cy="452" rx="14" ry="9" fill="#c0aa9c" filter="url(#bl2)"/>
<path d="M1383.3 505.3 C1383.3 500.4 1384.2 495.8 1385.2 491.1 C1386.2 486.4 1387.4 481.2 1389.0 476.9 C1390.6 472.6 1392.5 468.7 1394.6 465.5 C1396.6 462.3 1399.1 460.8 1401.3 457.9 C1403.5 455.0 1406.0 450.6 1407.9 448.4 C1409.8 446.2 1410.3 445.6 1412.7 444.6 C1415.1 443.7 1419.4 443.8 1422.1 442.7 C1424.8 441.6 1425.6 439.4 1428.8 438.0 C1432.0 436.6 1436.7 434.9 1441.1 434.2 C1445.5 433.5 1450.6 433.5 1455.3 433.7 C1460.0 433.9 1465.5 434.5 1469.5 435.2 C1473.5 435.9 1475.8 436.6 1479.0 438.0 C1482.2 439.4 1485.3 442.1 1488.5 443.7 C1491.7 445.3 1495.3 446.2 1498.0 447.5 C1500.7 448.8 1502.2 449.2 1504.6 451.3 C1507.0 453.4 1510.2 457.1 1512.2 459.8 C1514.2 462.5 1516.0 464.5 1516.9 467.4 C1517.9 470.2 1517.7 473.7 1517.9 476.9 C1518.1 480.1 1517.9 483.2 1517.9 486.4 C1517.9 489.5 1518.4 493.3 1517.9 495.8 C1517.4 498.3 1516.4 499.9 1515.0 501.5 C1513.6 503.1 1511.7 504.4 1509.3 505.3 C1506.9 506.2 1503.5 506.7 1500.8 507.2 C1498.1 507.7 1495.7 507.6 1493.2 508.2 C1490.7 508.8 1488.0 509.9 1485.6 511.0 C1483.2 512.1 1481.2 512.9 1479.0 514.8 C1476.8 516.7 1474.8 520.0 1472.4 522.4 C1470.0 524.8 1467.7 527.1 1464.8 529.0 C1461.9 530.9 1458.5 532.3 1455.3 533.7 C1452.1 535.1 1448.9 536.1 1445.8 537.5 C1442.7 538.9 1439.6 541.2 1436.4 542.3 C1433.2 543.4 1430.1 544.1 1426.9 544.2 C1423.7 544.4 1420.6 543.7 1417.4 543.2 C1414.2 542.7 1411.1 542.2 1407.9 541.3 C1404.7 540.3 1401.2 539.4 1398.4 537.5 C1395.6 535.6 1393.1 532.8 1390.9 530.0 C1388.7 527.2 1386.5 524.6 1385.2 520.5 C1383.9 516.4 1383.3 510.2 1383.3 505.3 Z" fill="none" stroke="#4a3434" stroke-width="5" filter="url(#bl1)"/>
<ellipse cx="1440" cy="538" rx="14" ry="5" fill="#6a3838" filter="url(#bl1)"/>
<ellipse cx="1435.5" cy="508" rx="3.8" ry="5" fill="none" stroke="#7a4444" stroke-width="1.6"/>
</g>
<path d="M1487.1 466.9 L1492.3 465.5 L1494.2 466.4" stroke="#f2f2f2" stroke-width="3.5100000000000002" stroke-linecap="round" stroke-linejoin="round" fill="none" opacity="0.95"/>
<path d="M1499.9 476.4 L1503.2 476.9" stroke="#f2f2f2" stroke-width="2.43" stroke-linecap="round" stroke-linejoin="round" fill="none" opacity="0.95"/>
<path d="M1500.3 490.1 L1501.3 490.6" stroke="#f2f2f2" stroke-width="2.16" stroke-linecap="round" stroke-linejoin="round" fill="none" opacity="0.95"/>
<path d="M1421.2 482.6 L1425.9 481.6 L1425.5 485.4" stroke="#f2f2f2" stroke-width="1.89" stroke-linecap="round" stroke-linejoin="round" fill="none" opacity="0.95"/>
<path d="M1448.7 447.5 L1451.5 445.6" stroke="#f0e8e0" stroke-width="1.89" stroke-linecap="round" stroke-linejoin="round" fill="none" opacity="0.8"/>
<text x="1629" y="40" font-family="'Liberation Serif','Times New Roman',serif" font-size="46" text-anchor="start" font-weight="bold" >c</text>
<rect x="1791.3" y="228.85" width="39" height="126.65" fill="#fff" stroke="#000" stroke-width="1.4"/>
<rect x="1851.9" y="187.46" width="39" height="168.04" fill="#fff" stroke="#000" stroke-width="1.4"/>
<rect x="1912.8" y="213.8" width="39" height="141.7" fill="#fff" stroke="#000" stroke-width="1.4"/>
<rect x="1973.6" y="295.31" width="39" height="60.19" fill="#fff" stroke="#000" stroke-width="1.4"/>
<line x1="1810.8" y1="215.68" x2="1810.8" y2="241.39" stroke="#000" stroke-width="1.4" />
<line x1="1801.1" y1="215.68" x2="1820.5" y2="215.68" stroke="#000" stroke-width="1.4" />
<line x1="1801.1" y1="241.39" x2="1820.5" y2="241.39" stroke="#000" stroke-width="1.4" />
<line x1="1871.4" y1="176.8" x2="1871.4" y2="196.24" stroke="#000" stroke-width="1.4" />
<line x1="1861.7" y1="176.8" x2="1881.1" y2="176.8" stroke="#000" stroke-width="1.4" />
<line x1="1861.7" y1="196.24" x2="1881.1" y2="196.24" stroke="#000" stroke-width="1.4" />
<line x1="1932.3" y1="206.27" x2="1932.3" y2="220.69" stroke="#000" stroke-width="1.4" />
<line x1="1922.6" y1="206.27" x2="1942" y2="206.27" stroke="#000" stroke-width="1.4" />
<line x1="1922.6" y1="220.69" x2="1942" y2="220.69" stroke="#000" stroke-width="1.4" />
<line x1="1993.1" y1="274.62" x2="1993.1" y2="316" stroke="#000" stroke-width="1.4" />
<line x1="1983.4" y1="274.62" x2="2002.8" y2="274.62" stroke="#000" stroke-width="1.4" />
<line x1="1983.4" y1="316" x2="2002.8" y2="316" stroke="#000" stroke-width="1.4" />
<circle cx="1810.8" cy="205.02" r="6.2" fill="#ffffff" stroke="#000" stroke-width="1.6"/>
<circle cx="1810.8" cy="230.1" r="6.2" fill="#ffffff" stroke="#000" stroke-width="1.6"/>
<circle cx="1810.8" cy="248.28" r="6.2" fill="#ffffff" stroke="#000" stroke-width="1.6"/>
<circle cx="1858.9" cy="174.3" r="6.2" fill="#0000ff" stroke="#000" stroke-width="1.6"/>
<circle cx="1886.4" cy="179.94" r="6.2" fill="#0000ff" stroke="#000" stroke-width="1.6"/>
<circle cx="1872.3" cy="205.02" r="6.2" fill="#0000ff" stroke="#000" stroke-width="1.6"/>
<circle cx="1932.3" cy="198.12" r="6.2" fill="#00c000" stroke="#000" stroke-width="1.6"/>
<circle cx="1919.5" cy="223.2" r="6.2" fill="#00c000" stroke="#000" stroke-width="1.6"/>
<circle cx="1946.1" cy="216.93" r="6.2" fill="#00c000" stroke="#000" stroke-width="1.6"/>
<circle cx="1993.1" cy="255.18" r="6.2" fill="#ff0000" stroke="#000" stroke-width="1.6"/>
<circle cx="1993.1" cy="305.34" r="6.2" fill="#ff0000" stroke="#000" stroke-width="1.6"/>
<circle cx="1993.1" cy="324.15" r="6.2" fill="#ff0000" stroke="#000" stroke-width="1.6"/>
<line x1="1770.3" y1="92.16" x2="1770.3" y2="357.15" stroke="#000" stroke-width="3.3" />
<line x1="1763" y1="355.5" x2="2035" y2="355.5" stroke="#000" stroke-width="3.3" />
<line x1="1763" y1="355.5" x2="1778" y2="355.5" stroke="#000" stroke-width="3.3" />
<text x="1759" y="365" font-family="'Liberation Serif','Times New Roman',serif" font-size="27" text-anchor="end" font-weight="normal" >0</text>
<line x1="1763" y1="292.8" x2="1778" y2="292.8" stroke="#000" stroke-width="3.3" />
<text x="1759" y="302.3" font-family="'Liberation Serif','Times New Roman',serif" font-size="27" text-anchor="end" font-weight="normal" >1</text>
<line x1="1763" y1="230.1" x2="1778" y2="230.1" stroke="#000" stroke-width="3.3" />
<text x="1759" y="239.6" font-family="'Liberation Serif','Times New Roman',serif" font-size="27" text-anchor="end" font-weight="normal" >2</text>
<line x1="1763" y1="167.4" x2="1778" y2="167.4" stroke="#000" stroke-width="3.3" />
<text x="1759" y="176.9" font-family="'Liberation Serif','Times New Roman',serif" font-size="27" text-anchor="end" font-weight="normal" >3</text>
<line x1="1763" y1="104.7" x2="1778" y2="104.7" stroke="#000" stroke-width="3.3" />
<text x="1759" y="114.2" font-family="'Liberation Serif','Times New Roman',serif" font-size="27" text-anchor="end" font-weight="normal" >4</text>
<line x1="1810.8" y1="355.5" x2="1810.8" y2="367" stroke="#000" stroke-width="3.3" />
<line x1="1871.4" y1="355.5" x2="1871.4" y2="367" stroke="#000" stroke-width="3.3" />
<line x1="1932.3" y1="355.5" x2="1932.3" y2="367" stroke="#000" stroke-width="3.3" />
<line x1="1993.1" y1="355.5" x2="1993.1" y2="367" stroke="#000" stroke-width="3.3" />
<path d="M1811 189.5 V31.2 H1993.6 V71.5" fill="none" stroke="#000" stroke-width="2.8"/>
<text x="1902" y="18.7" font-family="'Liberation Sans',Arial,sans-serif" font-size="22" text-anchor="middle" font-weight="normal" >0.0082</text>
<path d="M1871.4 157.5 V86.7 H1993.6 V102" fill="none" stroke="#000" stroke-width="2.8"/>
<text x="1932.5" y="74" font-family="'Liberation Sans',Arial,sans-serif" font-size="22" text-anchor="middle" font-weight="normal" >0.0005</text>
<path d="M1932.3 183.3 V142.8 H1993.6 V239.4" fill="none" stroke="#000" stroke-width="2.8"/>
<text x="1963" y="130" font-family="'Liberation Sans',Arial,sans-serif" font-size="22" text-anchor="middle" font-weight="normal" >0.0028</text>
<text transform="translate(1696.6,219.5) rotate(-90)" font-family="'Liberation Serif','Times New Roman',serif" font-size="29" text-anchor="middle" font-weight="normal" style="white-space:pre">Tumor Weight  (g)</text>
<text transform="translate(1728,219.5) rotate(-90)" font-family="'Liberation Serif','Times New Roman',serif" font-size="29" text-anchor="middle" font-weight="normal" style="white-space:pre">(Day 16)</text>
<text transform="translate(1819.8,390) rotate(-45)" font-family="'Liberation Serif','Times New Roman',serif" font-size="29.4" text-anchor="end" font-weight="normal" style="white-space:pre">No Treatment</text>
<text transform="translate(1880.4,390) rotate(-45)" font-family="'Liberation Serif','Times New Roman',serif" font-size="29.4" text-anchor="end" font-weight="normal" style="white-space:pre">PFK15 (i.p.) + PBS (RO)</text>
<text transform="translate(1941.3,390) rotate(-45)" font-family="'Liberation Serif','Times New Roman',serif" font-size="29.4" text-anchor="end" font-weight="normal" style="white-space:pre">PFK15 (i.p.) + F16BP DCs (RO)</text>
<text transform="translate(2002.1,390) rotate(-45)" font-family="'Liberation Serif','Times New Roman',serif" font-size="29.4" text-anchor="end" font-weight="normal" style="white-space:pre">PFK15 (i.p.) + Vacc DCs (RO)</text>
<text x="0" y="715.5" font-family="'Liberation Serif','Times New Roman',serif" font-size="46" text-anchor="start" font-weight="bold" >d</text>
<rect x="201.6" y="1064.16" width="47" height="67.84" fill="#fff" stroke="#000" stroke-width="1.6"/>
<rect x="275.3" y="1050.51" width="47" height="81.49" fill="#fff" stroke="#000" stroke-width="1.6"/>
<rect x="348.9" y="1009.97" width="47" height="122.03" fill="#fff" stroke="#000" stroke-width="1.6"/>
<rect x="422.6" y="932.96" width="47" height="199.04" fill="#fff" stroke="#000" stroke-width="1.6"/>
<line x1="225.1" y1="1044.11" x2="225.1" y2="1082.93" stroke="#000" stroke-width="1.6" />
<line x1="212.9" y1="1044.11" x2="237.3" y2="1044.11" stroke="#000" stroke-width="1.6" />
<line x1="212.9" y1="1082.93" x2="237.3" y2="1082.93" stroke="#000" stroke-width="1.6" />
<line x1="298.8" y1="1045.6" x2="298.8" y2="1052.64" stroke="#000" stroke-width="1.6" />
<line x1="286.6" y1="1045.6" x2="311" y2="1045.6" stroke="#000" stroke-width="1.6" />
<line x1="286.6" y1="1052.64" x2="311" y2="1052.64" stroke="#000" stroke-width="1.6" />
<line x1="372.4" y1="1001.44" x2="372.4" y2="1006.13" stroke="#000" stroke-width="1.6" />
<line x1="360.2" y1="1001.44" x2="384.6" y2="1001.44" stroke="#000" stroke-width="1.6" />
<line x1="360.2" y1="1006.13" x2="384.6" y2="1006.13" stroke="#000" stroke-width="1.6" />
<line x1="446.1" y1="924.43" x2="446.1" y2="941.07" stroke="#000" stroke-width="1.6" />
<line x1="433.9" y1="924.43" x2="458.3" y2="924.43" stroke="#000" stroke-width="1.6" />
<line x1="433.9" y1="941.07" x2="458.3" y2="941.07" stroke="#000" stroke-width="1.6" />
<circle cx="208.5" cy="1030.67" r="7.9" fill="#ffffff" stroke="#000" stroke-width="1.6"/>
<circle cx="242" cy="1028.75" r="7.9" fill="#ffffff" stroke="#000" stroke-width="1.6"/>
<circle cx="208.5" cy="1101.49" r="7.9" fill="#ffffff" stroke="#000" stroke-width="1.6"/>
<circle cx="242" cy="1092" r="7.9" fill="#ffffff" stroke="#000" stroke-width="1.6"/>
<circle cx="283" cy="1053.71" r="7.9" fill="#0000ff" stroke="#000" stroke-width="1.6"/>
<circle cx="294.1" cy="1041.76" r="7.9" fill="#0000ff" stroke="#000" stroke-width="1.6"/>
<circle cx="304.5" cy="1050.08" r="7.9" fill="#0000ff" stroke="#000" stroke-width="1.6"/>
<circle cx="315.7" cy="1049.01" r="7.9" fill="#0000ff" stroke="#000" stroke-width="1.6"/>
<circle cx="356.7" cy="1008.27" r="7.9" fill="#00c000" stroke="#000" stroke-width="1.6"/>
<circle cx="367.8" cy="1001.65" r="7.9" fill="#00c000" stroke="#000" stroke-width="1.6"/>
<circle cx="377.9" cy="1008.27" r="7.9" fill="#00c000" stroke="#000" stroke-width="1.6"/>
<circle cx="390.2" cy="1002.51" r="7.9" fill="#00c000" stroke="#000" stroke-width="1.6"/>
<circle cx="430.1" cy="946.83" r="7.9" fill="#ff0000" stroke="#000" stroke-width="1.6"/>
<circle cx="446.1" cy="909.28" r="7.9" fill="#ff0000" stroke="#000" stroke-width="1.6"/>
<circle cx="446.1" cy="933.6" r="7.9" fill="#ff0000" stroke="#000" stroke-width="1.6"/>
<circle cx="463.6" cy="941.49" r="7.9" fill="#ff0000" stroke="#000" stroke-width="1.6"/>
<line x1="176" y1="812" x2="176" y2="1133.65" stroke="#000" stroke-width="3.3" />
<line x1="163" y1="1132" x2="497.4" y2="1132" stroke="#000" stroke-width="3.3" />
<line x1="163" y1="1132" x2="176" y2="1132" stroke="#000" stroke-width="3.3" />
<text x="158.5" y="1143.5" font-family="'Liberation Serif','Times New Roman',serif" font-size="34" text-anchor="end" font-weight="normal" >0</text>
<line x1="163" y1="1025.33" x2="176" y2="1025.33" stroke="#000" stroke-width="3.3" />
<text x="158.5" y="1036.83" font-family="'Liberation Serif','Times New Roman',serif" font-size="34" text-anchor="end" font-weight="normal" >500</text>
<line x1="163" y1="918.67" x2="176" y2="918.67" stroke="#000" stroke-width="3.3" />
<text x="158.5" y="930.17" font-family="'Liberation Serif','Times New Roman',serif" font-size="34" text-anchor="end" font-weight="normal" >1000</text>
<line x1="163" y1="812" x2="176" y2="812" stroke="#000" stroke-width="3.3" />
<text x="158.5" y="823.5" font-family="'Liberation Serif','Times New Roman',serif" font-size="34" text-anchor="end" font-weight="normal" >1500</text>
<line x1="225.1" y1="1132" x2="225.1" y2="1146" stroke="#000" stroke-width="3.3" />
<line x1="298.8" y1="1132" x2="298.8" y2="1146" stroke="#000" stroke-width="3.3" />
<line x1="372.4" y1="1132" x2="372.4" y2="1146" stroke="#000" stroke-width="3.3" />
<line x1="446.1" y1="1132" x2="446.1" y2="1146" stroke="#000" stroke-width="3.3" />
<path d="M225.1 852.2 V736.8 H446 V784.4" fill="none" stroke="#000" stroke-width="3.2"/>
<text x="334.5" y="721.3" font-family="'Liberation Sans',Arial,sans-serif" font-size="25.5" text-anchor="middle" font-weight="normal" >&lt;0.0001</text>
<path d="M298.8 822.4 V804 H446 V822.4" fill="none" stroke="#000" stroke-width="3.2"/>
<text x="371.5" y="788.5" font-family="'Liberation Sans',Arial,sans-serif" font-size="25.5" text-anchor="middle" font-weight="normal" >&lt;0.0001</text>
<path d="M225.1 1009 V871.7 H366.2 V983" fill="none" stroke="#000" stroke-width="3.2"/>
<text x="294.6" y="856" font-family="'Liberation Sans',Arial,sans-serif" font-size="25.5" text-anchor="middle" font-weight="normal" >0.0021</text>
<path d="M379.2 983 V871.7 H446 V889.8" fill="none" stroke="#000" stroke-width="3.2"/>
<text x="412.2" y="856" font-family="'Liberation Sans',Arial,sans-serif" font-size="25.5" text-anchor="middle" font-weight="normal" >0.0004</text>
<text transform="translate(31,967) rotate(-90)" font-family="'Liberation Serif','Times New Roman',serif" font-size="35" text-anchor="middle" font-weight="normal" style="white-space:pre">#CD11c+ cells</text>
<text transform="translate(71.8,967) rotate(-90)" font-family="'Liberation Serif','Times New Roman',serif" font-size="35" text-anchor="middle" font-weight="normal" style="white-space:pre">(Tumor)</text>
<text transform="translate(234.1,1169) rotate(-45)" font-family="'Liberation Serif','Times New Roman',serif" font-size="27.2" text-anchor="end" font-weight="normal" style="white-space:pre">No Treatment</text>
<text transform="translate(307.8,1169) rotate(-45)" font-family="'Liberation Serif','Times New Roman',serif" font-size="27.2" text-anchor="end" font-weight="normal" style="white-space:pre">PFK15 (i.p.) + PBS (RO)</text>
<text transform="translate(381.4,1169) rotate(-45)" font-family="'Liberation Serif','Times New Roman',serif" font-size="27.2" text-anchor="end" font-weight="normal" style="white-space:pre">PFK15 (i.p.) + F16BP DCs (RO)</text>
<text transform="translate(455.1,1169) rotate(-45)" font-family="'Liberation Serif','Times New Roman',serif" font-size="27.2" text-anchor="end" font-weight="normal" style="white-space:pre">PFK15 (i.p.) + Vacc DCs (RO)</text>
<text x="589" y="715" font-family="'Liberation Serif','Times New Roman',serif" font-size="46" text-anchor="start" font-weight="bold" >e</text>
<rect x="707.4" y="966.99" width="47" height="165.01" fill="#fff" stroke="#000" stroke-width="1.6"/>
<rect x="781.5" y="968.6" width="47" height="163.4" fill="#fff" stroke="#000" stroke-width="1.6"/>
<rect x="854.9" y="971.24" width="47" height="160.76" fill="#fff" stroke="#000" stroke-width="1.6"/>
<rect x="928.2" y="874.88" width="47" height="257.12" fill="#fff" stroke="#000" stroke-width="1.6"/>
<line x1="730.9" y1="919.74" x2="730.9" y2="1013.45" stroke="#000" stroke-width="1.6" />
<line x1="718.7" y1="919.74" x2="743.1" y2="919.74" stroke="#000" stroke-width="1.6" />
<line x1="718.7" y1="1013.45" x2="743.1" y2="1013.45" stroke="#000" stroke-width="1.6" />
<line x1="805" y1="959.78" x2="805" y2="975.81" stroke="#000" stroke-width="1.6" />
<line x1="792.8" y1="959.78" x2="817.2" y2="959.78" stroke="#000" stroke-width="1.6" />
<line x1="792.8" y1="975.81" x2="817.2" y2="975.81" stroke="#000" stroke-width="1.6" />
<line x1="878.4" y1="958.98" x2="878.4" y2="981.81" stroke="#000" stroke-width="1.6" />
<line x1="866.2" y1="958.98" x2="890.6" y2="958.98" stroke="#000" stroke-width="1.6" />
<line x1="866.2" y1="981.81" x2="890.6" y2="981.81" stroke="#000" stroke-width="1.6" />
<line x1="951.7" y1="855.65" x2="951.7" y2="894.1" stroke="#000" stroke-width="1.6" />
<line x1="939.5" y1="855.65" x2="963.9" y2="855.65" stroke="#000" stroke-width="1.6" />
<line x1="939.5" y1="894.1" x2="963.9" y2="894.1" stroke="#000" stroke-width="1.6" />
<circle cx="730.9" cy="859.66" r="7.9" fill="#ffffff" stroke="#000" stroke-width="1.6"/>
<circle cx="730.9" cy="915.73" r="7.9" fill="#ffffff" stroke="#000" stroke-width="1.6"/>
<circle cx="714.3" cy="1043.89" r="7.9" fill="#ffffff" stroke="#000" stroke-width="1.6"/>
<circle cx="747.1" cy="1043.89" r="7.9" fill="#ffffff" stroke="#000" stroke-width="1.6"/>
<circle cx="805" cy="947.77" r="7.9" fill="#0000ff" stroke="#000" stroke-width="1.6"/>
<circle cx="787.6" cy="963.79" r="7.9" fill="#0000ff" stroke="#000" stroke-width="1.6"/>
<circle cx="821.2" cy="971.8" r="7.9" fill="#0000ff" stroke="#000" stroke-width="1.6"/>
<circle cx="805" cy="987.82" r="7.9" fill="#0000ff" stroke="#000" stroke-width="1.6"/>
<circle cx="878.4" cy="947.77" r="7.9" fill="#00c000" stroke="#000" stroke-width="1.6"/>
<circle cx="861.8" cy="963.79" r="7.9" fill="#00c000" stroke="#000" stroke-width="1.6"/>
<circle cx="894.6" cy="963.79" r="7.9" fill="#00c000" stroke="#000" stroke-width="1.6"/>
<circle cx="878.4" cy="1003.84" r="7.9" fill="#00c000" stroke="#000" stroke-width="1.6"/>
<circle cx="951.7" cy="827.62" r="7.9" fill="#ff0000" stroke="#000" stroke-width="1.6"/>
<circle cx="951.7" cy="859.66" r="7.9" fill="#ff0000" stroke="#000" stroke-width="1.6"/>
<circle cx="951.7" cy="891.7" r="7.9" fill="#ff0000" stroke="#000" stroke-width="1.6"/>
<circle cx="951.7" cy="915.73" r="7.9" fill="#ff0000" stroke="#000" stroke-width="1.6"/>
<line x1="682" y1="811.6" x2="682" y2="1133.65" stroke="#000" stroke-width="3.3" />
<line x1="668" y1="1132" x2="1002" y2="1132" stroke="#000" stroke-width="3.3" />
<line x1="668" y1="1132" x2="682" y2="1132" stroke="#000" stroke-width="3.3" />
<text x="666" y="1143.5" font-family="'Liberation Serif','Times New Roman',serif" font-size="34" text-anchor="end" font-weight="normal" >0</text>
<line x1="668" y1="1051.9" x2="682" y2="1051.9" stroke="#000" stroke-width="3.3" />
<text x="666" y="1063.4" font-family="'Liberation Serif','Times New Roman',serif" font-size="34" text-anchor="end" font-weight="normal" >10</text>
<line x1="668" y1="971.8" x2="682" y2="971.8" stroke="#000" stroke-width="3.3" />
<text x="666" y="983.3" font-family="'Liberation Serif','Times New Roman',serif" font-size="34" text-anchor="end" font-weight="normal" >20</text>
<line x1="668" y1="891.7" x2="682" y2="891.7" stroke="#000" stroke-width="3.3" />
<text x="666" y="903.2" font-family="'Liberation Serif','Times New Roman',serif" font-size="34" text-anchor="end" font-weight="normal" >30</text>
<line x1="668" y1="811.6" x2="682" y2="811.6" stroke="#000" stroke-width="3.3" />
<text x="666" y="823.1" font-family="'Liberation Serif','Times New Roman',serif" font-size="34" text-anchor="end" font-weight="normal" >40</text>
<line x1="730.9" y1="1132" x2="730.9" y2="1146" stroke="#000" stroke-width="3.3" />
<line x1="805" y1="1132" x2="805" y2="1146" stroke="#000" stroke-width="3.3" />
<line x1="878.4" y1="1132" x2="878.4" y2="1146" stroke="#000" stroke-width="3.3" />
<line x1="951.7" y1="1132" x2="951.7" y2="1146" stroke="#000" stroke-width="3.3" />
<path d="M730.9 841.3 V656 H951.7 V704.2" fill="none" stroke="#000" stroke-width="3.2"/>
<text x="841.3" y="640.5" font-family="'Liberation Sans',Arial,sans-serif" font-size="26.2" text-anchor="middle" font-weight="normal" >0.0286</text>
<path d="M805 928.2 V723.6 H951.7 V741" fill="none" stroke="#000" stroke-width="3.2"/>
<text x="878" y="708" font-family="'Liberation Sans',Arial,sans-serif" font-size="26.2" text-anchor="middle" font-weight="normal" >0.0259</text>
<path d="M878.4 930 V790.3 H951.7 V810.4" fill="none" stroke="#000" stroke-width="3.2"/>
<text x="914.7" y="775.7" font-family="'Liberation Sans',Arial,sans-serif" font-size="26.2" text-anchor="middle" font-weight="normal" >0.0234</text>
<text transform="translate(572,967) rotate(-90)" font-family="'Liberation Serif','Times New Roman',serif" font-size="35" text-anchor="middle" font-weight="normal" style="white-space:pre">#CD86+ in CD11c+ cells</text>
<text transform="translate(611.5,967) rotate(-90)" font-family="'Liberation Serif','Times New Roman',serif" font-size="35" text-anchor="middle" font-weight="normal" style="white-space:pre">(Tumor)</text>
<text transform="translate(739.9,1169) rotate(-45)" font-family="'Liberation Serif','Times New Roman',serif" font-size="27.2" text-anchor="end" font-weight="normal" style="white-space:pre">No Treatment</text>
<text transform="translate(814,1169) rotate(-45)" font-family="'Liberation Serif','Times New Roman',serif" font-size="27.2" text-anchor="end" font-weight="normal" style="white-space:pre">PFK15 (i.p.) + PBS (RO)</text>
<text transform="translate(887.4,1169) rotate(-45)" font-family="'Liberation Serif','Times New Roman',serif" font-size="27.2" text-anchor="end" font-weight="normal" style="white-space:pre">PFK15 (i.p.) + F16BP DCs (RO)</text>
<text transform="translate(960.7,1169) rotate(-45)" font-family="'Liberation Serif','Times New Roman',serif" font-size="27.2" text-anchor="end" font-weight="normal" style="white-space:pre">PFK15 (i.p.) + Vacc DCs (RO)</text>
<text x="1036" y="713.6" font-family="'Liberation Serif','Times New Roman',serif" font-size="46" text-anchor="start" font-weight="bold" >f</text>
<rect x="1226.1" y="986.93" width="47" height="143.77" fill="#fff" stroke="#000" stroke-width="1.6"/>
<rect x="1299.9" y="1033.79" width="47" height="96.91" fill="#fff" stroke="#000" stroke-width="1.6"/>
<rect x="1373.3" y="1024.2" width="47" height="106.5" fill="#fff" stroke="#000" stroke-width="1.6"/>
<rect x="1447.1" y="928.35" width="47" height="202.35" fill="#fff" stroke="#000" stroke-width="1.6"/>
<line x1="1249.6" y1="945.39" x2="1249.6" y2="1029.53" stroke="#000" stroke-width="1.6" />
<line x1="1237.4" y1="945.39" x2="1261.8" y2="945.39" stroke="#000" stroke-width="1.6" />
<line x1="1237.4" y1="1029.53" x2="1261.8" y2="1029.53" stroke="#000" stroke-width="1.6" />
<line x1="1323.4" y1="1030.59" x2="1323.4" y2="1036.98" stroke="#000" stroke-width="1.6" />
<line x1="1311.2" y1="1030.59" x2="1335.6" y2="1030.59" stroke="#000" stroke-width="1.6" />
<line x1="1311.2" y1="1036.98" x2="1335.6" y2="1036.98" stroke="#000" stroke-width="1.6" />
<line x1="1396.8" y1="1008.23" x2="1396.8" y2="1040.17" stroke="#000" stroke-width="1.6" />
<line x1="1384.6" y1="1008.23" x2="1409" y2="1008.23" stroke="#000" stroke-width="1.6" />
<line x1="1384.6" y1="1040.17" x2="1409" y2="1040.17" stroke="#000" stroke-width="1.6" />
<line x1="1470.6" y1="904.92" x2="1470.6" y2="950.72" stroke="#000" stroke-width="1.6" />
<line x1="1458.4" y1="904.92" x2="1482.8" y2="904.92" stroke="#000" stroke-width="1.6" />
<line x1="1458.4" y1="950.72" x2="1482.8" y2="950.72" stroke="#000" stroke-width="1.6" />
<circle cx="1249.6" cy="875.1" r="7.9" fill="#ffffff" stroke="#000" stroke-width="1.6"/>
<circle cx="1249.6" cy="970.95" r="7.9" fill="#ffffff" stroke="#000" stroke-width="1.6"/>
<circle cx="1233.8" cy="1056.15" r="7.9" fill="#ffffff" stroke="#000" stroke-width="1.6"/>
<circle cx="1266.4" cy="1045.5" r="7.9" fill="#ffffff" stroke="#000" stroke-width="1.6"/>
<circle cx="1307.2" cy="1034.85" r="7.9" fill="#0000ff" stroke="#000" stroke-width="1.6"/>
<circle cx="1318" cy="1024.2" r="7.9" fill="#0000ff" stroke="#000" stroke-width="1.6"/>
<circle cx="1328.7" cy="1034.85" r="7.9" fill="#0000ff" stroke="#000" stroke-width="1.6"/>
<circle cx="1340.6" cy="1034.85" r="7.9" fill="#0000ff" stroke="#000" stroke-width="1.6"/>
<circle cx="1380.7" cy="1002.9" r="7.9" fill="#00c000" stroke="#000" stroke-width="1.6"/>
<circle cx="1413.3" cy="992.25" r="7.9" fill="#00c000" stroke="#000" stroke-width="1.6"/>
<circle cx="1380.7" cy="1056.15" r="7.9" fill="#00c000" stroke="#000" stroke-width="1.6"/>
<circle cx="1413.3" cy="1045.5" r="7.9" fill="#00c000" stroke="#000" stroke-width="1.6"/>
<circle cx="1470.6" cy="885.75" r="7.9" fill="#ff0000" stroke="#000" stroke-width="1.6"/>
<circle cx="1470.6" cy="907.05" r="7.9" fill="#ff0000" stroke="#000" stroke-width="1.6"/>
<circle cx="1470.6" cy="928.35" r="7.9" fill="#ff0000" stroke="#000" stroke-width="1.6"/>
<circle cx="1470.6" cy="992.25" r="7.9" fill="#ff0000" stroke="#000" stroke-width="1.6"/>
<line x1="1200.9" y1="811.2" x2="1200.9" y2="1132.35" stroke="#000" stroke-width="3.3" />
<line x1="1187.2" y1="1130.7" x2="1522" y2="1130.7" stroke="#000" stroke-width="3.3" />
<line x1="1187.2" y1="1130.7" x2="1200.9" y2="1130.7" stroke="#000" stroke-width="3.3" />
<text x="1184" y="1142.2" font-family="'Liberation Serif','Times New Roman',serif" font-size="34" text-anchor="end" font-weight="normal" >0</text>
<line x1="1187.2" y1="1024.2" x2="1200.9" y2="1024.2" stroke="#000" stroke-width="3.3" />
<text x="1184" y="1035.7" font-family="'Liberation Serif','Times New Roman',serif" font-size="34" text-anchor="end" font-weight="normal" >10</text>
<line x1="1187.2" y1="917.7" x2="1200.9" y2="917.7" stroke="#000" stroke-width="3.3" />
<text x="1184" y="929.2" font-family="'Liberation Serif','Times New Roman',serif" font-size="34" text-anchor="end" font-weight="normal" >20</text>
<line x1="1187.2" y1="811.2" x2="1200.9" y2="811.2" stroke="#000" stroke-width="3.3" />
<text x="1184" y="822.7" font-family="'Liberation Serif','Times New Roman',serif" font-size="34" text-anchor="end" font-weight="normal" >30</text>
<line x1="1249.6" y1="1130.7" x2="1249.6" y2="1144.7" stroke="#000" stroke-width="3.3" />
<line x1="1323.4" y1="1130.7" x2="1323.4" y2="1144.7" stroke="#000" stroke-width="3.3" />
<line x1="1396.8" y1="1130.7" x2="1396.8" y2="1144.7" stroke="#000" stroke-width="3.3" />
<line x1="1470.6" y1="1130.7" x2="1470.6" y2="1144.7" stroke="#000" stroke-width="3.3" />
<path d="M1249.6 854.9 V702.7 H1470.6 V750.3" fill="none" stroke="#000" stroke-width="3.2"/>
<text x="1360.3" y="687.3" font-family="'Liberation Sans',Arial,sans-serif" font-size="26.2" text-anchor="middle" font-weight="normal" >0.1255</text>
<path d="M1323.4 1005.3 V770 H1470.6 V787.9" fill="none" stroke="#000" stroke-width="3.2"/>
<text x="1397" y="754.6" font-family="'Liberation Sans',Arial,sans-serif" font-size="26.2" text-anchor="middle" font-weight="normal" >0.0129</text>
<path d="M1396.8 973 V836.3 H1470.6 V866.4" fill="none" stroke="#000" stroke-width="3.2"/>
<text x="1433.9" y="820.9" font-family="'Liberation Sans',Arial,sans-serif" font-size="26.2" text-anchor="middle" font-weight="normal" >0.0195</text>
<text transform="translate(1092,966.5) rotate(-90)" font-family="'Liberation Serif','Times New Roman',serif" font-size="35.3" text-anchor="middle" font-weight="normal" style="white-space:pre">#MHCI+CD86+ in CD11c+ cells</text>
<text transform="translate(1129,966.5) rotate(-90)" font-family="'Liberation Serif','Times New Roman',serif" font-size="35.3" text-anchor="middle" font-weight="normal" style="white-space:pre">(Tumor)</text>
<text transform="translate(1258.6,1167.7) rotate(-45)" font-family="'Liberation Serif','Times New Roman',serif" font-size="27.2" text-anchor="end" font-weight="normal" style="white-space:pre">No Treatment</text>
<text transform="translate(1332.4,1167.7) rotate(-45)" font-family="'Liberation Serif','Times New Roman',serif" font-size="27.2" text-anchor="end" font-weight="normal" style="white-space:pre">PFK15 (i.p.) + PBS (RO)</text>
<text transform="translate(1405.8,1167.7) rotate(-45)" font-family="'Liberation Serif','Times New Roman',serif" font-size="27.2" text-anchor="end" font-weight="normal" style="white-space:pre">PFK15 (i.p.) + F16BP DCs (RO)</text>
<text transform="translate(1479.6,1167.7) rotate(-45)" font-family="'Liberation Serif','Times New Roman',serif" font-size="27.2" text-anchor="end" font-weight="normal" style="white-space:pre">PFK15 (i.p.) + Vacc DCs (RO)</text>
<text x="1555" y="715" font-family="'Liberation Serif','Times New Roman',serif" font-size="46" text-anchor="start" font-weight="bold" >g</text>
<rect x="1754.1" y="994.87" width="47" height="138.33" fill="#fff" stroke="#000" stroke-width="1.6"/>
<rect x="1827.9" y="915.12" width="47" height="218.08" fill="#fff" stroke="#000" stroke-width="1.6"/>
<rect x="1902.1" y="1010.69" width="47" height="122.51" fill="#fff" stroke="#000" stroke-width="1.6"/>
<rect x="1975.5" y="894.39" width="47" height="238.81" fill="#fff" stroke="#000" stroke-width="1.6"/>
<line x1="1777.6" y1="937.15" x2="1777.6" y2="1052.17" stroke="#000" stroke-width="1.6" />
<line x1="1765.4" y1="937.15" x2="1789.8" y2="937.15" stroke="#000" stroke-width="1.6" />
<line x1="1765.4" y1="1052.17" x2="1789.8" y2="1052.17" stroke="#000" stroke-width="1.6" />
<line x1="1851.4" y1="889.47" x2="1851.4" y2="940.78" stroke="#000" stroke-width="1.6" />
<line x1="1839.2" y1="889.47" x2="1863.6" y2="889.47" stroke="#000" stroke-width="1.6" />
<line x1="1839.2" y1="940.78" x2="1863.6" y2="940.78" stroke="#000" stroke-width="1.6" />
<line x1="1925.6" y1="1000.64" x2="1925.6" y2="1020.53" stroke="#000" stroke-width="1.6" />
<line x1="1913.4" y1="1000.64" x2="1937.8" y2="1000.64" stroke="#000" stroke-width="1.6" />
<line x1="1913.4" y1="1020.53" x2="1937.8" y2="1020.53" stroke="#000" stroke-width="1.6" />
<line x1="1999" y1="875.14" x2="1999" y2="910.85" stroke="#000" stroke-width="1.6" />
<line x1="1986.8" y1="875.14" x2="2011.2" y2="875.14" stroke="#000" stroke-width="1.6" />
<line x1="1986.8" y1="910.85" x2="2011.2" y2="910.85" stroke="#000" stroke-width="1.6" />
<circle cx="1777.6" cy="833.88" r="7.9" fill="#ffffff" stroke="#000" stroke-width="1.6"/>
<circle cx="1777.6" cy="983.54" r="7.9" fill="#ffffff" stroke="#000" stroke-width="1.6"/>
<circle cx="1777.6" cy="1069.06" r="7.9" fill="#ffffff" stroke="#000" stroke-width="1.6"/>
<circle cx="1777.6" cy="1090.44" r="7.9" fill="#ffffff" stroke="#000" stroke-width="1.6"/>
<circle cx="1835.6" cy="876.64" r="7.9" fill="#0000ff" stroke="#000" stroke-width="1.6"/>
<circle cx="1868.4" cy="876.64" r="7.9" fill="#0000ff" stroke="#000" stroke-width="1.6"/>
<circle cx="1851.4" cy="919.4" r="7.9" fill="#0000ff" stroke="#000" stroke-width="1.6"/>
<circle cx="1851.4" cy="983.54" r="7.9" fill="#0000ff" stroke="#000" stroke-width="1.6"/>
<circle cx="1925.6" cy="983.54" r="7.9" fill="#00c000" stroke="#000" stroke-width="1.6"/>
<circle cx="1925.6" cy="1004.92" r="7.9" fill="#00c000" stroke="#000" stroke-width="1.6"/>
<circle cx="1909.8" cy="1026.3" r="7.9" fill="#00c000" stroke="#000" stroke-width="1.6"/>
<circle cx="1941.9" cy="1026.3" r="7.9" fill="#00c000" stroke="#000" stroke-width="1.6"/>
<circle cx="1999" cy="855.26" r="7.9" fill="#ff0000" stroke="#000" stroke-width="1.6"/>
<circle cx="1999" cy="876.64" r="7.9" fill="#ff0000" stroke="#000" stroke-width="1.6"/>
<circle cx="1999" cy="898.02" r="7.9" fill="#ff0000" stroke="#000" stroke-width="1.6"/>
<circle cx="1999" cy="940.78" r="7.9" fill="#ff0000" stroke="#000" stroke-width="1.6"/>
<line x1="1728.6" y1="812.5" x2="1728.6" y2="1134.85" stroke="#000" stroke-width="3.3" />
<line x1="1715.5" y1="1133.2" x2="2050" y2="1133.2" stroke="#000" stroke-width="3.3" />
<line x1="1715.5" y1="1133.2" x2="1728.6" y2="1133.2" stroke="#000" stroke-width="3.3" />
<text x="1711.5" y="1144.7" font-family="'Liberation Serif','Times New Roman',serif" font-size="34" text-anchor="end" font-weight="normal" >0</text>
<line x1="1715.5" y1="1026.3" x2="1728.6" y2="1026.3" stroke="#000" stroke-width="3.3" />
<text x="1711.5" y="1037.8" font-family="'Liberation Serif','Times New Roman',serif" font-size="34" text-anchor="end" font-weight="normal" >5</text>
<line x1="1715.5" y1="919.4" x2="1728.6" y2="919.4" stroke="#000" stroke-width="3.3" />
<text x="1711.5" y="930.9" font-family="'Liberation Serif','Times New Roman',serif" font-size="34" text-anchor="end" font-weight="normal" >10</text>
<line x1="1715.5" y1="812.5" x2="1728.6" y2="812.5" stroke="#000" stroke-width="3.3" />
<text x="1711.5" y="824" font-family="'Liberation Serif','Times New Roman',serif" font-size="34" text-anchor="end" font-weight="normal" >15</text>
<line x1="1777.6" y1="1133.2" x2="1777.6" y2="1147.2" stroke="#000" stroke-width="3.3" />
<line x1="1851.4" y1="1133.2" x2="1851.4" y2="1147.2" stroke="#000" stroke-width="3.3" />
<line x1="1925.6" y1="1133.2" x2="1925.6" y2="1147.2" stroke="#000" stroke-width="3.3" />
<line x1="1999" y1="1133.2" x2="1999" y2="1147.2" stroke="#000" stroke-width="3.3" />
<path d="M1777.6 777.7 V661 H1999 V710" fill="none" stroke="#000" stroke-width="3.2"/>
<text x="1888.3" y="646.4" font-family="'Liberation Sans',Arial,sans-serif" font-size="26.2" text-anchor="middle" font-weight="normal" >0.0527</text>
<path d="M1851.4 746.8 V728.7 H1999 V746.8" fill="none" stroke="#000" stroke-width="3.2"/>
<text x="1924.8" y="714" font-family="'Liberation Sans',Arial,sans-serif" font-size="26.2" text-anchor="middle" font-weight="normal" >0.6590</text>
<path d="M1777.6 814.5 V797 H1919.4 V963.2" fill="none" stroke="#000" stroke-width="3.2"/>
<text x="1848.5" y="780.4" font-family="'Liberation Sans',Arial,sans-serif" font-size="26.2" text-anchor="middle" font-weight="normal" >0.7402</text>
<path d="M1931 963.2 V797 H1999 V835.7" fill="none" stroke="#000" stroke-width="3.2"/>
<text x="1965.4" y="780.4" font-family="'Liberation Sans',Arial,sans-serif" font-size="26.2" text-anchor="middle" font-weight="normal" >0.0285</text>
<text transform="translate(1620,967) rotate(-90)" font-family="'Liberation Serif','Times New Roman',serif" font-size="35" text-anchor="middle" font-weight="normal" style="white-space:pre">#MHCII+CD86+ in CD11c+ cells</text>
<text transform="translate(1657,967) rotate(-90)" font-family="'Liberation Serif','Times New Roman',serif" font-size="35" text-anchor="middle" font-weight="normal" style="white-space:pre">(Tumor)</text>
<text transform="translate(1786.6,1168.7) rotate(-45)" font-family="'Liberation Serif','Times New Roman',serif" font-size="27.2" text-anchor="end" font-weight="normal" style="white-space:pre">No Treatment</text>
<text transform="translate(1860.4,1168.7) rotate(-45)" font-family="'Liberation Serif','Times New Roman',serif" font-size="27.2" text-anchor="end" font-weight="normal" style="white-space:pre">PFK15 (i.p.) + PBS (RO)</text>
<text transform="translate(1934.6,1168.7) rotate(-45)" font-family="'Liberation Serif','Times New Roman',serif" font-size="27.2" text-anchor="end" font-weight="normal" style="white-space:pre">PFK15 (i.p.) + F16BP DCs (RO)</text>
<text transform="translate(2008,1168.7) rotate(-45)" font-family="'Liberation Serif','Times New Roman',serif" font-size="27.2" text-anchor="end" font-weight="normal" style="white-space:pre">PFK15 (i.p.) + Vacc DCs (RO)</text>
</svg></body></html>
